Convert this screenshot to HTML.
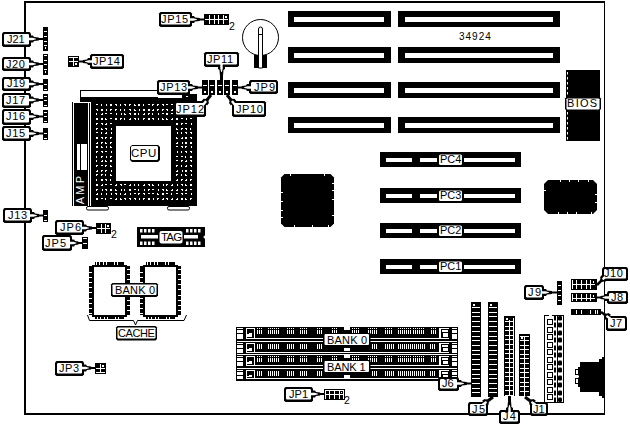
<!DOCTYPE html>
<html><head><meta charset="utf-8"><style>
html,body{margin:0;padding:0;background:#fff;overflow:hidden;}
svg{display:block;font-family:"Liberation Sans",sans-serif;}
</style></head><body>
<svg width="630" height="426" viewBox="0 0 630 426" font-family="Liberation Sans, sans-serif">
<rect width="630" height="426" fill="#fff"/>
<rect x="24" y="1" width="581" height="2" fill="#000"/>
<rect x="24" y="1" width="2" height="414" fill="#000"/>
<rect x="24" y="413" width="581" height="2" fill="#000"/>
<rect x="604" y="1" width="1" height="414" fill="#000"/>
<rect x="288" y="11" width="103" height="16" fill="#000"/>
<rect x="294" y="17" width="90" height="5" fill="#fff"/>
<rect x="398" y="11" width="162" height="16" fill="#000"/>
<rect x="405" y="17" width="148" height="5" fill="#fff"/>
<rect x="288" y="47" width="103" height="16" fill="#000"/>
<rect x="294" y="53" width="90" height="5" fill="#fff"/>
<rect x="398" y="47" width="162" height="16" fill="#000"/>
<rect x="405" y="53" width="148" height="5" fill="#fff"/>
<rect x="288" y="82" width="103" height="16" fill="#000"/>
<rect x="294" y="88" width="90" height="5" fill="#fff"/>
<rect x="398" y="82" width="162" height="16" fill="#000"/>
<rect x="405" y="88" width="148" height="5" fill="#fff"/>
<rect x="288" y="117" width="103" height="16" fill="#000"/>
<rect x="294" y="123" width="90" height="5" fill="#fff"/>
<rect x="398" y="117" width="162" height="16" fill="#000"/>
<rect x="405" y="123" width="148" height="5" fill="#fff"/>
<text x="459" y="40" font-size="10" letter-spacing="1.0" text-anchor="start" fill="#000" >34924</text>
<circle cx="260.5" cy="37.5" r="18" fill="none" stroke="#000" stroke-width="1"/>
<rect x="254" y="55" width="13" height="13" fill="#000"/>
<path d="M258.5,68 V29 A2,2 0 0 1 262.5,29 V68 Z" fill="#fff" stroke="#000" stroke-width="1"/>
<rect x="259" y="34" width="3" height="1" fill="#000"/>
<rect x="566" y="70" width="34" height="71" fill="#000"/>
<rect x="567" y="72" width="1" height="2.5" fill="#fff"/>
<rect x="567" y="77" width="1" height="2.5" fill="#fff"/>
<rect x="567" y="82" width="1" height="2.5" fill="#fff"/>
<rect x="567" y="87" width="1" height="2.5" fill="#fff"/>
<rect x="567" y="92" width="1" height="2.5" fill="#fff"/>
<rect x="567" y="97" width="1" height="2.5" fill="#fff"/>
<rect x="567" y="102" width="1" height="2.5" fill="#fff"/>
<rect x="567" y="107" width="1" height="2.5" fill="#fff"/>
<rect x="567" y="112" width="1" height="2.5" fill="#fff"/>
<rect x="567" y="117" width="1" height="2.5" fill="#fff"/>
<rect x="567" y="122" width="1" height="2.5" fill="#fff"/>
<rect x="567" y="127" width="1" height="2.5" fill="#fff"/>
<rect x="567" y="132" width="1" height="2.5" fill="#fff"/>
<rect x="567" y="137" width="1" height="2.5" fill="#fff"/>
<polygon points="566.5,97 599.5,97 601,98.5 601,109.0 599.5,110.5 566.5,110.5 565,109.0 565,98.5" fill="#000"/>
<polygon points="567.2,98.5 598.8,98.5 599.5,99.2 599.5,108.8 598.8,109.5 567.2,109.5 566.5,108.8 566.5,99.2" fill="#fff"/>
<text x="567" y="107" font-size="11" letter-spacing="1.3" text-anchor="start" fill="#000" >BIOS</text>
<rect x="380" y="152" width="141" height="15" fill="#000"/>
<rect x="386" y="158" width="26" height="4" fill="#fff"/>
<rect x="420" y="158" width="17" height="4" fill="#fff"/>
<rect x="464" y="158" width="51" height="4" fill="#fff"/>
<rect x="439" y="154.5" width="23" height="10.5" rx="1.5" fill="#fff"/>
<text x="440" y="163" font-size="11" letter-spacing="0.0" text-anchor="start" fill="#000" >PC4</text>
<rect x="380" y="188" width="141" height="15" fill="#000"/>
<rect x="386" y="194" width="26" height="4" fill="#fff"/>
<rect x="420" y="194" width="17" height="4" fill="#fff"/>
<rect x="464" y="194" width="51" height="4" fill="#fff"/>
<rect x="439" y="190.5" width="23" height="10.5" rx="1.5" fill="#fff"/>
<text x="440" y="199" font-size="11" letter-spacing="0.0" text-anchor="start" fill="#000" >PC3</text>
<rect x="380" y="223" width="141" height="15" fill="#000"/>
<rect x="386" y="229" width="26" height="4" fill="#fff"/>
<rect x="420" y="229" width="17" height="4" fill="#fff"/>
<rect x="464" y="229" width="51" height="4" fill="#fff"/>
<rect x="439" y="225.5" width="23" height="10.5" rx="1.5" fill="#fff"/>
<text x="440" y="234" font-size="11" letter-spacing="0.0" text-anchor="start" fill="#000" >PC2</text>
<rect x="380" y="259" width="141" height="15" fill="#000"/>
<rect x="386" y="265" width="26" height="4" fill="#fff"/>
<rect x="420" y="265" width="17" height="4" fill="#fff"/>
<rect x="464" y="265" width="51" height="4" fill="#fff"/>
<rect x="439" y="261.5" width="23" height="10.5" rx="1.5" fill="#fff"/>
<text x="440" y="270" font-size="11" letter-spacing="0.0" text-anchor="start" fill="#000" >PC1</text>
<polygon points="284.5,174 330.5,174 334,177.5 334,223.5 330.5,227 284.5,227 281,223.5 281,177.5" fill="#000"/>
<rect x="281" y="192" width="2" height="1" fill="#fff"/>
<rect x="281" y="201" width="2" height="1" fill="#fff"/>
<rect x="281" y="210" width="2" height="1" fill="#fff"/>
<rect x="281" y="217" width="2" height="1" fill="#fff"/>
<rect x="332" y="183" width="2" height="1" fill="#fff"/>
<rect x="332" y="190" width="2" height="1" fill="#fff"/>
<rect x="332" y="199" width="2" height="1" fill="#fff"/>
<rect x="332" y="215" width="2" height="1" fill="#fff"/>
<rect x="290" y="174" width="1" height="2" fill="#fff"/>
<rect x="324" y="174" width="1" height="2" fill="#fff"/>
<rect x="294" y="225" width="1" height="2" fill="#fff"/>
<rect x="312" y="225" width="1" height="2" fill="#fff"/>
<rect x="328" y="225" width="1" height="2" fill="#fff"/>
<polygon points="548,180 593,180 597,184 597,210 593,214 548,214 544,210 544,184" fill="#000"/>
<rect x="560" y="180" width="1" height="2" fill="#fff"/>
<rect x="569" y="180" width="1" height="2" fill="#fff"/>
<rect x="578" y="180" width="1" height="2" fill="#fff"/>
<rect x="588" y="180" width="1" height="2" fill="#fff"/>
<rect x="558" y="212" width="1" height="2" fill="#fff"/>
<rect x="567" y="212" width="1" height="2" fill="#fff"/>
<rect x="576" y="212" width="1" height="2" fill="#fff"/>
<rect x="591" y="212" width="1" height="2" fill="#fff"/>
<rect x="544" y="190" width="2" height="1" fill="#fff"/>
<rect x="595" y="194" width="2" height="1" fill="#fff"/>
<rect x="595" y="202" width="2" height="1" fill="#fff"/>
<rect x="80" y="90" width="78" height="8" fill="#000"/>
<rect x="81" y="91" width="77" height="6" fill="#fff"/>
<rect x="80" y="98" width="117" height="108" fill="#000"/>
<rect x="182" y="94" width="15" height="4" fill="#000"/>
<rect x="186" y="96" width="2" height="1" fill="#fff"/>
<rect x="71" y="102" width="20" height="104" fill="#fff"/>
<rect x="72" y="102" width="1" height="104" fill="#000"/>
<rect x="74" y="103" width="14" height="103" fill="#000"/>
<rect x="89" y="103" width="1" height="103" fill="#000"/>
<path fill="#fff" d="M96,104h1v1h-1zM97,104h1v1h-1zM96,109h1v1h-1zM97,109h1v1h-1zM97,110h1v1h-1zM96,113h1v1h-1zM96,114h1v1h-1zM96,118h1v1h-1zM97,118h1v1h-1zM96,119h1v1h-1zM97,119h1v1h-1zM96,123h1v1h-1zM97,123h1v1h-1zM96,124h1v1h-1zM96,128h1v1h-1zM97,128h1v1h-1zM96,129h1v1h-1zM96,132h1v1h-1zM97,132h1v1h-1zM96,137h1v1h-1zM97,137h1v1h-1zM96,138h1v1h-1zM97,138h1v1h-1zM96,143h1v1h-1zM97,143h1v1h-1zM97,142h1v1h-1zM96,146h1v1h-1zM97,146h1v1h-1zM96,147h1v1h-1zM97,147h1v1h-1zM96,151h1v1h-1zM97,151h1v1h-1zM96,152h1v1h-1zM96,156h1v1h-1zM96,157h1v1h-1zM96,160h1v1h-1zM96,161h1v1h-1zM96,165h1v1h-1zM97,165h1v1h-1zM96,166h1v1h-1zM96,171h1v1h-1zM97,171h1v1h-1zM97,170h1v1h-1zM96,174h1v1h-1zM97,174h1v1h-1zM96,175h1v1h-1zM96,179h1v1h-1zM96,180h1v1h-1zM96,184h1v1h-1zM97,184h1v1h-1zM96,185h1v1h-1zM97,185h1v1h-1zM96,189h1v1h-1zM97,189h1v1h-1zM96,190h1v1h-1zM96,194h1v1h-1zM97,194h1v1h-1zM97,193h1v1h-1zM96,198h1v1h-1zM97,198h1v1h-1zM96,199h1v1h-1zM97,199h1v1h-1zM101,104h1v1h-1zM101,105h1v1h-1zM101,109h1v1h-1zM102,109h1v1h-1zM101,110h1v1h-1zM102,110h1v1h-1zM101,114h1v1h-1zM102,114h1v1h-1zM102,113h1v1h-1zM101,118h1v1h-1zM102,118h1v1h-1zM101,119h1v1h-1zM102,119h1v1h-1zM101,123h1v1h-1zM102,123h1v1h-1zM102,124h1v1h-1zM101,128h1v1h-1zM101,129h1v1h-1zM102,129h1v1h-1zM101,132h1v1h-1zM101,133h1v1h-1zM101,137h1v1h-1zM102,137h1v1h-1zM102,138h1v1h-1zM101,142h1v1h-1zM102,142h1v1h-1zM101,143h1v1h-1zM101,146h1v1h-1zM101,147h1v1h-1zM102,147h1v1h-1zM101,151h1v1h-1zM102,151h1v1h-1zM102,152h1v1h-1zM101,156h1v1h-1zM102,156h1v1h-1zM101,157h1v1h-1zM101,161h1v1h-1zM102,161h1v1h-1zM102,160h1v1h-1zM101,165h1v1h-1zM102,165h1v1h-1zM101,170h1v1h-1zM102,170h1v1h-1zM101,171h1v1h-1zM101,174h1v1h-1zM102,174h1v1h-1zM101,175h1v1h-1zM101,179h1v1h-1zM102,179h1v1h-1zM101,180h1v1h-1zM102,180h1v1h-1zM101,185h1v1h-1zM102,185h1v1h-1zM102,184h1v1h-1zM102,189h1v1h-1zM102,190h1v1h-1zM101,193h1v1h-1zM101,194h1v1h-1zM101,198h1v1h-1zM102,198h1v1h-1zM106,104h1v1h-1zM106,105h1v1h-1zM106,109h1v1h-1zM106,110h1v1h-1zM105,113h1v1h-1zM106,113h1v1h-1zM105,118h1v1h-1zM105,119h1v1h-1zM106,119h1v1h-1zM105,124h1v1h-1zM106,124h1v1h-1zM106,123h1v1h-1zM105,128h1v1h-1zM106,128h1v1h-1zM106,129h1v1h-1zM105,133h1v1h-1zM106,133h1v1h-1zM106,132h1v1h-1zM105,137h1v1h-1zM106,137h1v1h-1zM105,138h1v1h-1zM105,142h1v1h-1zM105,143h1v1h-1zM106,143h1v1h-1zM106,146h1v1h-1zM106,147h1v1h-1zM105,151h1v1h-1zM106,151h1v1h-1zM106,156h1v1h-1zM106,157h1v1h-1zM105,160h1v1h-1zM105,161h1v1h-1zM106,161h1v1h-1zM105,165h1v1h-1zM106,165h1v1h-1zM105,166h1v1h-1zM105,170h1v1h-1zM106,170h1v1h-1zM105,171h1v1h-1zM105,174h1v1h-1zM105,175h1v1h-1zM105,179h1v1h-1zM106,179h1v1h-1zM106,180h1v1h-1zM105,184h1v1h-1zM106,184h1v1h-1zM105,189h1v1h-1zM106,189h1v1h-1zM106,190h1v1h-1zM106,193h1v1h-1zM106,194h1v1h-1zM105,198h1v1h-1zM105,199h1v1h-1zM110,104h1v1h-1zM111,104h1v1h-1zM110,105h1v1h-1zM111,105h1v1h-1zM110,109h1v1h-1zM111,109h1v1h-1zM110,110h1v1h-1zM110,113h1v1h-1zM111,113h1v1h-1zM110,118h1v1h-1zM111,118h1v1h-1zM110,123h1v1h-1zM111,123h1v1h-1zM111,128h1v1h-1zM111,129h1v1h-1zM111,132h1v1h-1zM111,133h1v1h-1zM110,137h1v1h-1zM111,137h1v1h-1zM110,138h1v1h-1zM110,142h1v1h-1zM111,142h1v1h-1zM110,143h1v1h-1zM110,146h1v1h-1zM110,147h1v1h-1zM111,147h1v1h-1zM111,151h1v1h-1zM111,152h1v1h-1zM110,156h1v1h-1zM111,156h1v1h-1zM110,157h1v1h-1zM110,160h1v1h-1zM111,160h1v1h-1zM110,161h1v1h-1zM111,161h1v1h-1zM110,165h1v1h-1zM110,166h1v1h-1zM111,166h1v1h-1zM111,170h1v1h-1zM111,171h1v1h-1zM110,174h1v1h-1zM110,175h1v1h-1zM111,175h1v1h-1zM110,179h1v1h-1zM110,180h1v1h-1zM110,184h1v1h-1zM111,184h1v1h-1zM110,189h1v1h-1zM111,189h1v1h-1zM110,190h1v1h-1zM111,190h1v1h-1zM111,193h1v1h-1zM111,194h1v1h-1zM110,198h1v1h-1zM111,198h1v1h-1zM115,104h1v1h-1zM116,104h1v1h-1zM116,105h1v1h-1zM115,109h1v1h-1zM116,109h1v1h-1zM115,110h1v1h-1zM116,113h1v1h-1zM116,114h1v1h-1zM115,118h1v1h-1zM116,118h1v1h-1zM115,119h1v1h-1zM116,119h1v1h-1zM115,185h1v1h-1zM116,185h1v1h-1zM116,184h1v1h-1zM115,189h1v1h-1zM115,190h1v1h-1zM116,190h1v1h-1zM115,193h1v1h-1zM116,193h1v1h-1zM116,194h1v1h-1zM115,199h1v1h-1zM116,199h1v1h-1zM116,198h1v1h-1zM120,104h1v1h-1zM120,105h1v1h-1zM120,109h1v1h-1zM120,110h1v1h-1zM121,113h1v1h-1zM121,114h1v1h-1zM120,118h1v1h-1zM121,118h1v1h-1zM120,119h1v1h-1zM120,184h1v1h-1zM121,184h1v1h-1zM121,185h1v1h-1zM121,189h1v1h-1zM121,190h1v1h-1zM120,193h1v1h-1zM120,194h1v1h-1zM120,198h1v1h-1zM120,199h1v1h-1zM121,199h1v1h-1zM124,104h1v1h-1zM125,104h1v1h-1zM125,105h1v1h-1zM124,109h1v1h-1zM124,110h1v1h-1zM124,113h1v1h-1zM124,114h1v1h-1zM125,114h1v1h-1zM124,118h1v1h-1zM124,119h1v1h-1zM124,184h1v1h-1zM125,184h1v1h-1zM124,189h1v1h-1zM124,190h1v1h-1zM124,194h1v1h-1zM125,194h1v1h-1zM125,193h1v1h-1zM124,198h1v1h-1zM125,198h1v1h-1zM125,199h1v1h-1zM129,104h1v1h-1zM130,104h1v1h-1zM129,105h1v1h-1zM129,109h1v1h-1zM130,109h1v1h-1zM130,110h1v1h-1zM129,113h1v1h-1zM130,113h1v1h-1zM130,114h1v1h-1zM129,119h1v1h-1zM130,119h1v1h-1zM130,118h1v1h-1zM129,185h1v1h-1zM130,185h1v1h-1zM130,184h1v1h-1zM129,189h1v1h-1zM130,189h1v1h-1zM129,190h1v1h-1zM130,190h1v1h-1zM130,193h1v1h-1zM130,194h1v1h-1zM129,198h1v1h-1zM130,198h1v1h-1zM130,199h1v1h-1zM134,104h1v1h-1zM134,105h1v1h-1zM135,105h1v1h-1zM134,109h1v1h-1zM134,110h1v1h-1zM135,110h1v1h-1zM134,113h1v1h-1zM135,113h1v1h-1zM134,114h1v1h-1zM135,114h1v1h-1zM134,118h1v1h-1zM135,118h1v1h-1zM135,119h1v1h-1zM134,184h1v1h-1zM134,185h1v1h-1zM134,189h1v1h-1zM135,189h1v1h-1zM134,193h1v1h-1zM135,193h1v1h-1zM134,198h1v1h-1zM135,198h1v1h-1zM135,199h1v1h-1zM138,104h1v1h-1zM139,104h1v1h-1zM138,105h1v1h-1zM139,105h1v1h-1zM139,109h1v1h-1zM139,110h1v1h-1zM138,113h1v1h-1zM138,114h1v1h-1zM138,118h1v1h-1zM138,119h1v1h-1zM138,184h1v1h-1zM138,185h1v1h-1zM138,189h1v1h-1zM138,190h1v1h-1zM138,193h1v1h-1zM139,193h1v1h-1zM138,194h1v1h-1zM139,198h1v1h-1zM139,199h1v1h-1zM143,104h1v1h-1zM143,105h1v1h-1zM143,109h1v1h-1zM144,109h1v1h-1zM143,110h1v1h-1zM144,110h1v1h-1zM143,114h1v1h-1zM144,114h1v1h-1zM144,113h1v1h-1zM143,118h1v1h-1zM144,118h1v1h-1zM143,119h1v1h-1zM143,185h1v1h-1zM144,185h1v1h-1zM144,184h1v1h-1zM144,189h1v1h-1zM144,190h1v1h-1zM143,193h1v1h-1zM144,193h1v1h-1zM144,194h1v1h-1zM143,198h1v1h-1zM144,198h1v1h-1zM143,199h1v1h-1zM148,104h1v1h-1zM149,104h1v1h-1zM148,109h1v1h-1zM149,109h1v1h-1zM148,110h1v1h-1zM149,110h1v1h-1zM148,113h1v1h-1zM149,113h1v1h-1zM148,114h1v1h-1zM148,118h1v1h-1zM149,118h1v1h-1zM148,119h1v1h-1zM149,119h1v1h-1zM148,184h1v1h-1zM149,184h1v1h-1zM149,185h1v1h-1zM148,189h1v1h-1zM149,189h1v1h-1zM148,190h1v1h-1zM148,193h1v1h-1zM149,193h1v1h-1zM148,198h1v1h-1zM149,198h1v1h-1zM148,199h1v1h-1zM149,199h1v1h-1zM152,104h1v1h-1zM153,104h1v1h-1zM152,105h1v1h-1zM152,110h1v1h-1zM153,110h1v1h-1zM153,109h1v1h-1zM152,113h1v1h-1zM152,114h1v1h-1zM152,118h1v1h-1zM153,118h1v1h-1zM153,119h1v1h-1zM152,184h1v1h-1zM152,185h1v1h-1zM153,185h1v1h-1zM152,189h1v1h-1zM153,189h1v1h-1zM152,193h1v1h-1zM153,193h1v1h-1zM153,198h1v1h-1zM153,199h1v1h-1zM157,104h1v1h-1zM158,104h1v1h-1zM157,105h1v1h-1zM157,109h1v1h-1zM158,109h1v1h-1zM157,110h1v1h-1zM158,113h1v1h-1zM158,114h1v1h-1zM158,118h1v1h-1zM158,119h1v1h-1zM158,184h1v1h-1zM158,185h1v1h-1zM158,189h1v1h-1zM158,190h1v1h-1zM157,193h1v1h-1zM157,194h1v1h-1zM158,194h1v1h-1zM157,198h1v1h-1zM158,198h1v1h-1zM157,199h1v1h-1zM162,104h1v1h-1zM163,104h1v1h-1zM163,105h1v1h-1zM162,109h1v1h-1zM163,109h1v1h-1zM162,110h1v1h-1zM162,113h1v1h-1zM163,113h1v1h-1zM162,118h1v1h-1zM162,119h1v1h-1zM163,119h1v1h-1zM163,184h1v1h-1zM163,185h1v1h-1zM162,189h1v1h-1zM163,189h1v1h-1zM163,190h1v1h-1zM162,193h1v1h-1zM163,193h1v1h-1zM162,194h1v1h-1zM163,194h1v1h-1zM162,199h1v1h-1zM163,199h1v1h-1zM163,198h1v1h-1zM166,104h1v1h-1zM167,104h1v1h-1zM166,109h1v1h-1zM167,109h1v1h-1zM167,110h1v1h-1zM166,113h1v1h-1zM167,113h1v1h-1zM166,114h1v1h-1zM167,114h1v1h-1zM166,118h1v1h-1zM166,119h1v1h-1zM167,119h1v1h-1zM166,184h1v1h-1zM167,184h1v1h-1zM166,185h1v1h-1zM166,189h1v1h-1zM166,190h1v1h-1zM167,190h1v1h-1zM166,193h1v1h-1zM167,193h1v1h-1zM166,198h1v1h-1zM167,198h1v1h-1zM167,199h1v1h-1zM171,104h1v1h-1zM172,104h1v1h-1zM171,110h1v1h-1zM172,110h1v1h-1zM172,109h1v1h-1zM171,113h1v1h-1zM172,113h1v1h-1zM171,119h1v1h-1zM172,119h1v1h-1zM172,118h1v1h-1zM171,185h1v1h-1zM172,185h1v1h-1zM172,184h1v1h-1zM171,190h1v1h-1zM172,190h1v1h-1zM172,189h1v1h-1zM171,193h1v1h-1zM171,194h1v1h-1zM171,199h1v1h-1zM172,199h1v1h-1zM172,198h1v1h-1zM176,105h1v1h-1zM177,105h1v1h-1zM177,104h1v1h-1zM177,109h1v1h-1zM177,110h1v1h-1zM176,113h1v1h-1zM177,113h1v1h-1zM176,118h1v1h-1zM177,118h1v1h-1zM176,119h1v1h-1zM177,119h1v1h-1zM176,123h1v1h-1zM177,123h1v1h-1zM176,124h1v1h-1zM177,124h1v1h-1zM176,128h1v1h-1zM176,129h1v1h-1zM177,129h1v1h-1zM177,132h1v1h-1zM177,133h1v1h-1zM176,137h1v1h-1zM176,138h1v1h-1zM177,138h1v1h-1zM176,143h1v1h-1zM177,143h1v1h-1zM177,142h1v1h-1zM176,146h1v1h-1zM177,146h1v1h-1zM177,151h1v1h-1zM177,152h1v1h-1zM176,156h1v1h-1zM177,156h1v1h-1zM176,160h1v1h-1zM177,160h1v1h-1zM176,165h1v1h-1zM177,165h1v1h-1zM176,166h1v1h-1zM176,171h1v1h-1zM177,171h1v1h-1zM177,170h1v1h-1zM176,174h1v1h-1zM177,174h1v1h-1zM176,175h1v1h-1zM176,180h1v1h-1zM177,180h1v1h-1zM177,179h1v1h-1zM177,184h1v1h-1zM177,185h1v1h-1zM176,190h1v1h-1zM177,190h1v1h-1zM177,189h1v1h-1zM176,193h1v1h-1zM177,193h1v1h-1zM176,199h1v1h-1zM177,199h1v1h-1zM177,198h1v1h-1zM182,104h1v1h-1zM182,105h1v1h-1zM181,109h1v1h-1zM182,109h1v1h-1zM181,110h1v1h-1zM182,110h1v1h-1zM182,113h1v1h-1zM182,114h1v1h-1zM181,118h1v1h-1zM182,118h1v1h-1zM181,123h1v1h-1zM182,123h1v1h-1zM181,124h1v1h-1zM181,128h1v1h-1zM182,128h1v1h-1zM181,129h1v1h-1zM181,132h1v1h-1zM181,133h1v1h-1zM181,138h1v1h-1zM182,138h1v1h-1zM182,137h1v1h-1zM182,142h1v1h-1zM182,143h1v1h-1zM181,146h1v1h-1zM182,146h1v1h-1zM182,147h1v1h-1zM181,151h1v1h-1zM181,152h1v1h-1zM181,156h1v1h-1zM182,156h1v1h-1zM181,160h1v1h-1zM182,160h1v1h-1zM181,161h1v1h-1zM181,165h1v1h-1zM181,166h1v1h-1zM182,170h1v1h-1zM182,171h1v1h-1zM181,174h1v1h-1zM181,175h1v1h-1zM181,179h1v1h-1zM182,179h1v1h-1zM181,180h1v1h-1zM181,184h1v1h-1zM182,184h1v1h-1zM182,185h1v1h-1zM181,189h1v1h-1zM182,189h1v1h-1zM182,190h1v1h-1zM181,193h1v1h-1zM182,193h1v1h-1zM182,194h1v1h-1zM181,198h1v1h-1zM182,198h1v1h-1zM181,199h1v1h-1zM182,199h1v1h-1zM185,104h1v1h-1zM186,104h1v1h-1zM186,105h1v1h-1zM186,109h1v1h-1zM186,110h1v1h-1zM185,113h1v1h-1zM186,113h1v1h-1zM186,114h1v1h-1zM186,118h1v1h-1zM186,119h1v1h-1zM185,123h1v1h-1zM186,123h1v1h-1zM185,128h1v1h-1zM186,128h1v1h-1zM186,129h1v1h-1zM185,132h1v1h-1zM186,132h1v1h-1zM186,133h1v1h-1zM185,137h1v1h-1zM186,137h1v1h-1zM185,138h1v1h-1zM186,138h1v1h-1zM185,142h1v1h-1zM186,142h1v1h-1zM185,143h1v1h-1zM186,143h1v1h-1zM185,146h1v1h-1zM186,146h1v1h-1zM185,147h1v1h-1zM185,151h1v1h-1zM186,151h1v1h-1zM186,152h1v1h-1zM185,156h1v1h-1zM185,157h1v1h-1zM185,161h1v1h-1zM186,161h1v1h-1zM186,160h1v1h-1zM185,166h1v1h-1zM186,166h1v1h-1zM186,165h1v1h-1zM185,170h1v1h-1zM186,170h1v1h-1zM185,171h1v1h-1zM186,171h1v1h-1zM185,174h1v1h-1zM185,175h1v1h-1zM186,175h1v1h-1zM185,180h1v1h-1zM186,180h1v1h-1zM186,179h1v1h-1zM185,184h1v1h-1zM185,185h1v1h-1zM186,185h1v1h-1zM185,190h1v1h-1zM186,190h1v1h-1zM186,189h1v1h-1zM185,193h1v1h-1zM186,193h1v1h-1zM185,198h1v1h-1zM185,199h1v1h-1zM186,199h1v1h-1zM190,104h1v1h-1zM190,105h1v1h-1zM190,109h1v1h-1zM191,109h1v1h-1zM191,110h1v1h-1zM190,113h1v1h-1zM191,113h1v1h-1zM190,114h1v1h-1zM191,114h1v1h-1zM190,118h1v1h-1zM191,118h1v1h-1zM191,123h1v1h-1zM191,124h1v1h-1zM190,128h1v1h-1zM190,129h1v1h-1zM190,132h1v1h-1zM191,132h1v1h-1zM191,133h1v1h-1zM190,137h1v1h-1zM191,137h1v1h-1zM191,138h1v1h-1zM190,142h1v1h-1zM191,142h1v1h-1zM190,143h1v1h-1zM191,143h1v1h-1zM191,146h1v1h-1zM191,147h1v1h-1zM190,151h1v1h-1zM191,151h1v1h-1zM191,152h1v1h-1zM190,156h1v1h-1zM191,156h1v1h-1zM190,157h1v1h-1zM191,157h1v1h-1zM190,160h1v1h-1zM191,160h1v1h-1zM191,161h1v1h-1zM190,165h1v1h-1zM191,165h1v1h-1zM191,166h1v1h-1zM190,170h1v1h-1zM191,170h1v1h-1zM191,171h1v1h-1zM191,174h1v1h-1zM191,175h1v1h-1zM190,179h1v1h-1zM191,179h1v1h-1zM190,180h1v1h-1zM190,184h1v1h-1zM191,184h1v1h-1zM190,185h1v1h-1zM191,185h1v1h-1zM190,189h1v1h-1zM191,189h1v1h-1zM191,193h1v1h-1zM191,194h1v1h-1zM190,198h1v1h-1zM191,198h1v1h-1zM190,199h1v1h-1z"/>
<rect x="116" y="126" width="55" height="55" fill="#fff"/>
<polygon points="132,145 158,145 160,147 160,160 158,162 132,162 130,160 130,147" fill="#000"/>
<polygon points="132,146 157,146 158,147 158,159 157,160 132,160 131,159 131,147" fill="#fff"/>
<text x="131" y="157" font-size="11.5" letter-spacing="0.5" text-anchor="start" fill="#000" >CPU</text>
<rect x="77" y="144" width="3" height="26" fill="#fff"/>
<rect x="81" y="144" width="6" height="26" fill="#fff"/>
<text x="0" y="0" font-size="11" letter-spacing="2.2" text-anchor="middle" fill="#fff" transform="translate(83.5,189) rotate(-90)">AMP</text>
<rect x="86.5" y="206.5" width="22" height="3.5" rx="1.5" fill="#fff" stroke="#000" stroke-width="1"/>
<rect x="167.5" y="206.5" width="22" height="3.5" rx="1.5" fill="#fff" stroke="#000" stroke-width="1"/>
<rect x="202" y="80" width="6" height="15" fill="#000"/>
<rect x="203" y="85" width="4" height="1" fill="#fff"/>
<rect x="204" y="91" width="2" height="2" fill="#fff"/>
<rect x="209" y="80" width="6" height="15" fill="#000"/>
<rect x="210" y="85" width="4" height="1" fill="#fff"/>
<rect x="211" y="91" width="2" height="2" fill="#fff"/>
<rect x="217" y="80" width="6" height="15" fill="#000"/>
<rect x="218" y="85" width="4" height="1" fill="#fff"/>
<rect x="219" y="91" width="2" height="2" fill="#fff"/>
<rect x="224" y="80" width="6" height="15" fill="#000"/>
<rect x="225" y="85" width="4" height="1" fill="#fff"/>
<rect x="226" y="91" width="2" height="2" fill="#fff"/>
<rect x="232" y="80" width="6" height="15" fill="#000"/>
<rect x="233" y="85" width="4" height="1" fill="#fff"/>
<rect x="234" y="91" width="2" height="2" fill="#fff"/>
<rect x="43" y="27" width="5" height="24" fill="#000"/>
<rect x="44" y="31" width="3" height="1" fill="#fff"/>
<rect x="44" y="36" width="3" height="1" fill="#fff"/>
<rect x="44" y="41" width="3" height="1" fill="#fff"/>
<rect x="44" y="45" width="3" height="1" fill="#fff"/>
<rect x="45" y="47" width="1" height="2" fill="#fff"/>
<rect x="43" y="54" width="5" height="21" fill="#000"/>
<rect x="44" y="55" width="3" height="1" fill="#fff"/>
<rect x="44" y="60" width="3" height="1" fill="#fff"/>
<rect x="44" y="64" width="3" height="1" fill="#fff"/>
<rect x="44" y="69" width="3" height="1" fill="#fff"/>
<rect x="45" y="71" width="1" height="2" fill="#fff"/>
<rect x="43" y="79" width="5" height="12" fill="#000"/>
<rect x="44" y="84" width="3" height="1" fill="#fff"/>
<rect x="44" y="89" width="3" height="1" fill="#fff"/>
<rect x="43" y="94" width="5" height="13" fill="#000"/>
<rect x="44" y="96" width="3" height="1" fill="#fff"/>
<rect x="44" y="100" width="3" height="1" fill="#fff"/>
<rect x="44" y="105" width="3" height="1" fill="#fff"/>
<rect x="43" y="110" width="5" height="13" fill="#000"/>
<rect x="44" y="112" width="3" height="1" fill="#fff"/>
<rect x="44" y="116" width="3" height="1" fill="#fff"/>
<rect x="44" y="121" width="3" height="1" fill="#fff"/>
<rect x="43" y="128" width="5" height="12" fill="#000"/>
<rect x="44" y="133" width="3" height="1" fill="#fff"/>
<rect x="44" y="138" width="3" height="1" fill="#fff"/>
<rect x="43" y="210" width="5" height="12" fill="#000"/>
<rect x="44" y="215" width="3" height="1" fill="#fff"/>
<rect x="44" y="220" width="3" height="1" fill="#fff"/>
<polygon points="30.0,42.5 33.0,42.5 34.0,41.0 38.8,40.6 38.8,37.4 34.0,37.0 33.0,35.5 30.0,35.5" fill="#000"/>
<line x1="37.8" y1="39.0" x2="43" y2="39" stroke="#000" stroke-width="2"/>
<polygon points="3.5,32 29.5,32 31,33.5 31,45.5 29.5,47 3.5,47 2,45.5 2,33.5" fill="#000"/>
<polygon points="4.7,34 28.3,34 29,34.7 29,43.8 28.3,44.5 4.7,44.5 4,43.8 4,34.7" fill="#fff"/>
<polygon points="28.0,40.2 32.5,40.2 36.0,39.3 36.0,38.7 32.5,37.8 28.0,37.8" fill="#fff"/>
<text x="7" y="43" font-size="11" letter-spacing="0.0" text-anchor="start" fill="#000" >J21</text>
<polygon points="30.0,67.5 33.0,67.5 34.0,66.0 38.8,65.6 38.8,62.4 34.0,62.0 33.0,60.5 30.0,60.5" fill="#000"/>
<line x1="37.8" y1="64.0" x2="43" y2="64" stroke="#000" stroke-width="2"/>
<polygon points="3.5,57 29.5,57 31,58.5 31,69.5 29.5,71 3.5,71 2,69.5 2,58.5" fill="#000"/>
<polygon points="4.7,59 28.3,59 29,59.7 29,67.8 28.3,68.5 4.7,68.5 4,67.8 4,59.7" fill="#fff"/>
<polygon points="28.0,65.2 32.5,65.2 36.0,64.3 36.0,63.7 32.5,62.8 28.0,62.8" fill="#fff"/>
<text x="6" y="68" font-size="11" letter-spacing="0.6" text-anchor="start" fill="#000" >J20</text>
<polygon points="30.0,87.5 33.0,87.5 34.0,86.0 38.8,85.6 38.8,82.4 34.0,82.0 33.0,80.5 30.0,80.5" fill="#000"/>
<line x1="37.8" y1="84.0" x2="43" y2="84" stroke="#000" stroke-width="2"/>
<polygon points="3.5,77 29.5,77 31,78.5 31,89.5 29.5,91 3.5,91 2,89.5 2,78.5" fill="#000"/>
<polygon points="4.7,79 28.3,79 29,79.7 29,87.8 28.3,88.5 4.7,88.5 4,87.8 4,79.7" fill="#fff"/>
<polygon points="28.0,85.2 32.5,85.2 36.0,84.3 36.0,83.7 32.5,82.8 28.0,82.8" fill="#fff"/>
<text x="7" y="87" font-size="11" letter-spacing="0.2" text-anchor="start" fill="#000" >J19</text>
<polygon points="30.0,103.5 33.0,103.5 34.0,102.0 38.8,101.6 38.8,98.4 34.0,98.0 33.0,96.5 30.0,96.5" fill="#000"/>
<line x1="37.8" y1="100.0" x2="43" y2="100" stroke="#000" stroke-width="2"/>
<polygon points="3.5,93 29.5,93 31,94.5 31,106.5 29.5,108 3.5,108 2,106.5 2,94.5" fill="#000"/>
<polygon points="4.7,95 28.3,95 29,95.7 29,104.8 28.3,105.5 4.7,105.5 4,104.8 4,95.7" fill="#fff"/>
<polygon points="28.0,101.2 32.5,101.2 36.0,100.3 36.0,99.7 32.5,98.8 28.0,98.8" fill="#fff"/>
<text x="6" y="104" font-size="11" letter-spacing="0.7" text-anchor="start" fill="#000" >J17</text>
<polygon points="30.0,120.0 33.0,120.0 34.0,118.5 38.8,118.1 38.8,114.9 34.0,114.5 33.0,113.0 30.0,113.0" fill="#000"/>
<line x1="37.8" y1="116.5" x2="43" y2="116.5" stroke="#000" stroke-width="2"/>
<polygon points="3.5,109 29.5,109 31,110.5 31,123.5 29.5,125 3.5,125 2,123.5 2,110.5" fill="#000"/>
<polygon points="4.7,111 28.3,111 29,111.7 29,121.8 28.3,122.5 4.7,122.5 4,121.8 4,111.7" fill="#fff"/>
<polygon points="28.0,117.7 32.5,117.7 36.0,116.8 36.0,116.2 32.5,115.3 28.0,115.3" fill="#fff"/>
<text x="6" y="120" font-size="11" letter-spacing="0.7" text-anchor="start" fill="#000" >J16</text>
<polygon points="30.0,137.0 33.0,137.0 34.0,135.5 38.8,135.1 38.8,131.9 34.0,131.5 33.0,130.0 30.0,130.0" fill="#000"/>
<line x1="37.8" y1="133.5" x2="43" y2="133.5" stroke="#000" stroke-width="2"/>
<polygon points="3.5,126 29.5,126 31,127.5 31,139.5 29.5,141 3.5,141 2,139.5 2,127.5" fill="#000"/>
<polygon points="4.7,128 28.3,128 29,128.7 29,137.8 28.3,138.5 4.7,138.5 4,137.8 4,128.7" fill="#fff"/>
<polygon points="28.0,134.7 32.5,134.7 36.0,133.8 36.0,133.2 32.5,132.3 28.0,132.3" fill="#fff"/>
<text x="6" y="137" font-size="11" letter-spacing="0.7" text-anchor="start" fill="#000" >J15</text>
<polygon points="31.0,219.0 34.0,219.0 35.0,217.5 39.15,217.1 39.15,213.9 35.0,213.5 34.0,212.0 31.0,212.0" fill="#000"/>
<line x1="38.15" y1="215.5" x2="43" y2="215.5" stroke="#000" stroke-width="2"/>
<polygon points="4.5,208 30.5,208 32,209.5 32,221.5 30.5,223 4.5,223 3,221.5 3,209.5" fill="#000"/>
<polygon points="5.7,210 29.3,210 30,210.7 30,219.8 29.3,220.5 5.7,220.5 5,219.8 5,210.7" fill="#fff"/>
<polygon points="29.0,216.7 33.5,216.7 37.0,215.8 37.0,215.2 33.5,214.3 29.0,214.3" fill="#fff"/>
<text x="8" y="219" font-size="11" letter-spacing="0.7" text-anchor="start" fill="#000" >J13</text>
<rect x="68" y="56" width="11" height="11" fill="#000"/>
<rect x="69" y="57" width="9" height="1" fill="#fff"/>
<rect x="69" y="61" width="9" height="1" fill="#fff"/>
<rect x="73" y="58" width="1" height="8" fill="#fff"/>
<rect x="75" y="63" width="2" height="2" fill="#fff"/>
<polygon points="91.0,58.0 88.0,58.0 87.0,59.5 82.85,59.9 82.85,63.1 87.0,63.5 88.0,65.0 91.0,65.0" fill="#000"/>
<line x1="83.85" y1="61.5" x2="79" y2="61.5" stroke="#000" stroke-width="2"/>
<polygon points="91.5,54 122.5,54 124,55.5 124,67.5 122.5,69 91.5,69 90,67.5 90,55.5" fill="#000"/>
<polygon points="92.7,56 121.3,56 122,56.7 122,65.8 121.3,66.5 92.7,66.5 92,65.8 92,56.7" fill="#fff"/>
<polygon points="93.0,60.3 88.5,60.3 85.0,61.2 85.0,61.8 88.5,62.7 93.0,62.7" fill="#fff"/>
<text x="93" y="65" font-size="11" letter-spacing="0.6" text-anchor="start" fill="#000" >JP14</text>
<rect x="204" y="14" width="25" height="11" fill="#000"/>
<rect x="205" y="19" width="23" height="1" fill="#fff"/>
<rect x="209" y="15" width="1" height="9" fill="#fff"/>
<rect x="214" y="15" width="1" height="9" fill="#fff"/>
<rect x="218" y="15" width="1" height="9" fill="#fff"/>
<rect x="223" y="15" width="1" height="9" fill="#fff"/>
<rect x="225" y="16" width="2" height="2" fill="#fff"/>
<text x="229" y="30" font-size="10.5" letter-spacing="0" text-anchor="start" fill="#000" >2</text>
<polygon points="191.0,23.0 194.0,23.0 195.0,21.5 199.8,21.1 199.8,17.9 195.0,17.5 194.0,16.0 191.0,16.0" fill="#000"/>
<line x1="198.8" y1="19.5" x2="204" y2="19.5" stroke="#000" stroke-width="2"/>
<polygon points="160.5,12 190.5,12 192,13.5 192,25.5 190.5,27 160.5,27 159,25.5 159,13.5" fill="#000"/>
<polygon points="161.7,14 189.3,14 190,14.7 190,23.8 189.3,24.5 161.7,24.5 161,23.8 161,14.7" fill="#fff"/>
<polygon points="189.0,20.7 193.5,20.7 197.0,19.8 197.0,19.2 193.5,18.3 189.0,18.3" fill="#fff"/>
<text x="161" y="23" font-size="11" letter-spacing="0.7" text-anchor="start" fill="#000" >JP15</text>
<polygon points="218.0,66.0 218.0,69.0 219.5,70.0 219.9,75.0 223.1,75.0 223.5,70.0 225.0,69.0 225.0,66.0" fill="#000"/>
<line x1="221.5" y1="74.0" x2="221.5" y2="80" stroke="#000" stroke-width="3"/>
<polygon points="205.5,52 237.5,52 239,53.5 239,65.5 237.5,67 205.5,67 204,65.5 204,53.5" fill="#000"/>
<polygon points="206.7,54 236.3,54 237,54.7 237,63.8 236.3,64.5 206.7,64.5 206,63.8 206,54.7" fill="#fff"/>
<polygon points="220.3,64.0 220.3,68.5 221.2,72.0 221.8,72.0 222.7,68.5 222.7,64.0" fill="#fff"/>
<text x="207" y="63" font-size="11" letter-spacing="0.6" text-anchor="start" fill="#000" >JP11</text>
<polygon points="189.0,91.0 192.0,91.0 193.0,89.5 197.8,89.1 197.8,85.9 193.0,85.5 192.0,84.0 189.0,84.0" fill="#000"/>
<line x1="196.8" y1="87.5" x2="202" y2="87.5" stroke="#000" stroke-width="2"/>
<polygon points="158.5,80 188.5,80 190,81.5 190,93.5 188.5,95 158.5,95 157,93.5 157,81.5" fill="#000"/>
<polygon points="159.7,82 187.3,82 188,82.7 188,91.8 187.3,92.5 159.7,92.5 159,91.8 159,82.7" fill="#fff"/>
<polygon points="187.0,88.7 191.5,88.7 195.0,87.8 195.0,87.2 191.5,86.3 187.0,86.3" fill="#fff"/>
<text x="160" y="91" font-size="11" letter-spacing="0.7" text-anchor="start" fill="#000" >JP13</text>
<polygon points="250.0,84.0 247.0,84.0 246.0,85.5 241.85,85.9 241.85,89.1 246.0,89.5 247.0,91.0 250.0,91.0" fill="#000"/>
<line x1="242.85" y1="87.5" x2="238" y2="87.5" stroke="#000" stroke-width="2"/>
<polygon points="250.5,80 276.5,80 278,81.5 278,92.5 276.5,94 250.5,94 249,92.5 249,81.5" fill="#000"/>
<polygon points="251.7,82 275.3,82 276,82.7 276,90.8 275.3,91.5 251.7,91.5 251,90.8 251,82.7" fill="#fff"/>
<polygon points="252.0,86.3 247.5,86.3 244.0,87.2 244.0,87.8 247.5,88.7 252.0,88.7" fill="#fff"/>
<text x="254" y="91" font-size="11" letter-spacing="1.1" text-anchor="start" fill="#000" >JP9</text>
<polygon points="207.11,105.47 208.98,103.12 208.44,101.41 208.75,100.38 206.25,98.38 205.31,98.91 203.52,98.75 201.64,101.09" fill="#000"/>
<line x1="206.87" y1="100.16" x2="211" y2="95" stroke="#000" stroke-width="3"/>
<polygon points="175.5,101 204.5,101 206,102.5 206,115.5 204.5,117 175.5,117 174,115.5 174,102.5" fill="#000"/>
<polygon points="176.7,103 203.3,103 204,103.7 204,113.8 203.3,114.5 176.7,114.5 176,113.8 176,103.7" fill="#fff"/>
<polygon points="204.06,105.59 206.87,102.08 206.48,101.13 206.02,100.75 205.0,100.58 202.19,104.09" fill="#fff"/>
<text x="176" y="113" font-size="11" letter-spacing="1.0" text-anchor="start" fill="#000" >JP12</text>
<polygon points="236.36,101.09 234.48,98.75 232.69,98.91 231.75,98.38 229.25,100.38 229.56,101.41 229.02,103.12 230.89,105.47" fill="#000"/>
<line x1="231.13" y1="100.16" x2="227" y2="95" stroke="#000" stroke-width="3"/>
<polygon points="233.5,101 264.5,101 266,102.5 266,115.5 264.5,117 233.5,117 232,115.5 232,102.5" fill="#000"/>
<polygon points="234.7,103 263.3,103 264,103.7 264,113.8 263.3,114.5 234.7,114.5 234,113.8 234,103.7" fill="#fff"/>
<polygon points="235.81,104.09 233.0,100.58 231.98,100.75 231.52,101.13 231.13,102.08 233.94,105.59" fill="#fff"/>
<text x="236" y="113" font-size="11" letter-spacing="0.6" text-anchor="start" fill="#000" >JP10</text>
<rect x="96" y="223" width="15" height="11" fill="#000"/>
<rect x="97" y="228" width="13" height="1" fill="#fff"/>
<rect x="101" y="224" width="1" height="9" fill="#fff"/>
<rect x="105" y="224" width="1" height="9" fill="#fff"/>
<rect x="107" y="225" width="2" height="2" fill="#fff"/>
<text x="111" y="238" font-size="10.5" letter-spacing="0" text-anchor="start" fill="#000" >2</text>
<polygon points="83.0,231.5 86.0,231.5 87.0,230.0 92.0,229.6 92.0,226.4 87.0,226.0 86.0,224.5 83.0,224.5" fill="#000"/>
<line x1="91.0" y1="228.0" x2="97" y2="228" stroke="#000" stroke-width="2"/>
<polygon points="56.5,220 82.5,220 84,221.5 84,233.5 82.5,235 56.5,235 55,233.5 55,221.5" fill="#000"/>
<polygon points="57.7,222 81.3,222 82,222.7 82,231.8 81.3,232.5 57.7,232.5 57,231.8 57,222.7" fill="#fff"/>
<polygon points="81.0,229.2 85.5,229.2 89.0,228.3 89.0,227.7 85.5,226.8 81.0,226.8" fill="#fff"/>
<text x="60" y="231" font-size="11" letter-spacing="1.1" text-anchor="start" fill="#000" >JP6</text>
<rect x="82" y="237" width="6" height="12" fill="#000"/>
<rect x="83" y="238" width="4" height="1" fill="#fff"/>
<rect x="83" y="243" width="4" height="1" fill="#fff"/>
<polygon points="71.0,246.5 74.0,246.5 75.0,245.0 78.5,244.6 78.5,241.4 75.0,241.0 74.0,239.5 71.0,239.5" fill="#000"/>
<line x1="77.5" y1="243.0" x2="82" y2="243" stroke="#000" stroke-width="2"/>
<polygon points="43.5,235 70.5,235 72,236.5 72,249.5 70.5,251 43.5,251 42,249.5 42,236.5" fill="#000"/>
<polygon points="44.7,237 69.3,237 70,237.7 70,247.8 69.3,248.5 44.7,248.5 44,247.8 44,237.7" fill="#fff"/>
<polygon points="69.0,244.2 73.5,244.2 76.5,243.3 76.5,242.7 73.5,241.8 69.0,241.8" fill="#fff"/>
<text x="45" y="247" font-size="11" letter-spacing="1.1" text-anchor="start" fill="#000" >JP5</text>
<rect x="137" y="227" width="68" height="20" fill="#000"/>
<rect x="140" y="229" width="2.5" height="3.5" fill="#fff"/>
<rect x="140" y="241.5" width="2.5" height="3.5" fill="#fff"/>
<rect x="144" y="229" width="2.5" height="3.5" fill="#fff"/>
<rect x="144" y="241.5" width="2.5" height="3.5" fill="#fff"/>
<rect x="148" y="229" width="2.5" height="3.5" fill="#fff"/>
<rect x="148" y="241.5" width="2.5" height="3.5" fill="#fff"/>
<rect x="152" y="229" width="2.5" height="3.5" fill="#fff"/>
<rect x="152" y="241.5" width="2.5" height="3.5" fill="#fff"/>
<rect x="186" y="229" width="2.5" height="3.5" fill="#fff"/>
<rect x="186" y="241.5" width="2.5" height="3.5" fill="#fff"/>
<rect x="190" y="229" width="2.5" height="3.5" fill="#fff"/>
<rect x="190" y="241.5" width="2.5" height="3.5" fill="#fff"/>
<rect x="194" y="229" width="2.5" height="3.5" fill="#fff"/>
<rect x="194" y="241.5" width="2.5" height="3.5" fill="#fff"/>
<rect x="198" y="229" width="2.5" height="3.5" fill="#fff"/>
<rect x="198" y="241.5" width="2.5" height="3.5" fill="#fff"/>
<rect x="141" y="235" width="17" height="3.5" fill="#fff"/>
<rect x="184" y="235" width="14" height="3.5" fill="#fff"/>
<circle cx="205" cy="237" r="1.5" fill="#fff"/>
<rect x="159.5" y="231" width="23" height="12.5" rx="2" fill="#fff"/>
<text x="161" y="241" font-size="11.5" letter-spacing="-0.8" text-anchor="start" fill="#000" >TAG</text>
<rect x="95" y="262" width="29" height="3" fill="#000"/>
<rect x="92" y="265" width="35" height="2" fill="#000"/>
<rect x="89" y="266" width="5" height="49" fill="#000"/>
<rect x="125" y="266" width="5" height="49" fill="#000"/>
<rect x="92" y="315" width="35" height="2" fill="#000"/>
<rect x="95" y="317" width="29" height="2" fill="#000"/>
<rect x="94" y="267" width="31" height="48" fill="#fff"/>
<rect x="96" y="262" width="1" height="3" fill="#fff"/>
<rect x="97" y="317" width="1" height="2" fill="#fff"/>
<rect x="99" y="262" width="1" height="3" fill="#fff"/>
<rect x="100" y="317" width="1" height="2" fill="#fff"/>
<rect x="103" y="262" width="1" height="3" fill="#fff"/>
<rect x="104" y="317" width="1" height="2" fill="#fff"/>
<rect x="106" y="262" width="1" height="3" fill="#fff"/>
<rect x="107" y="317" width="1" height="2" fill="#fff"/>
<rect x="114" y="262" width="1" height="3" fill="#fff"/>
<rect x="115" y="317" width="1" height="2" fill="#fff"/>
<rect x="117" y="262" width="1" height="3" fill="#fff"/>
<rect x="118" y="317" width="1" height="2" fill="#fff"/>
<rect x="89" y="272" width="3" height="1" fill="#fff"/>
<rect x="127" y="269" width="3" height="1" fill="#fff"/>
<rect x="89" y="277" width="3" height="1" fill="#fff"/>
<rect x="127" y="274" width="3" height="1" fill="#fff"/>
<rect x="89" y="282" width="3" height="1" fill="#fff"/>
<rect x="127" y="279" width="3" height="1" fill="#fff"/>
<rect x="89" y="287" width="3" height="1" fill="#fff"/>
<rect x="127" y="284" width="3" height="1" fill="#fff"/>
<rect x="89" y="292" width="3" height="1" fill="#fff"/>
<rect x="127" y="289" width="3" height="1" fill="#fff"/>
<rect x="89" y="298" width="3" height="1" fill="#fff"/>
<rect x="127" y="295" width="3" height="1" fill="#fff"/>
<rect x="89" y="303" width="3" height="1" fill="#fff"/>
<rect x="127" y="300" width="3" height="1" fill="#fff"/>
<rect x="89" y="308" width="3" height="1" fill="#fff"/>
<rect x="127" y="305" width="3" height="1" fill="#fff"/>
<rect x="89" y="313" width="3" height="1" fill="#fff"/>
<rect x="127" y="310" width="3" height="1" fill="#fff"/>
<rect x="146" y="262" width="29" height="3" fill="#000"/>
<rect x="143" y="265" width="35" height="2" fill="#000"/>
<rect x="140" y="266" width="5" height="49" fill="#000"/>
<rect x="176" y="266" width="5" height="49" fill="#000"/>
<rect x="143" y="315" width="35" height="2" fill="#000"/>
<rect x="146" y="317" width="29" height="2" fill="#000"/>
<rect x="145" y="267" width="31" height="48" fill="#fff"/>
<rect x="147" y="262" width="1" height="3" fill="#fff"/>
<rect x="148" y="317" width="1" height="2" fill="#fff"/>
<rect x="150" y="262" width="1" height="3" fill="#fff"/>
<rect x="151" y="317" width="1" height="2" fill="#fff"/>
<rect x="154" y="262" width="1" height="3" fill="#fff"/>
<rect x="155" y="317" width="1" height="2" fill="#fff"/>
<rect x="157" y="262" width="1" height="3" fill="#fff"/>
<rect x="158" y="317" width="1" height="2" fill="#fff"/>
<rect x="165" y="262" width="1" height="3" fill="#fff"/>
<rect x="166" y="317" width="1" height="2" fill="#fff"/>
<rect x="168" y="262" width="1" height="3" fill="#fff"/>
<rect x="169" y="317" width="1" height="2" fill="#fff"/>
<rect x="140" y="272" width="3" height="1" fill="#fff"/>
<rect x="178" y="269" width="3" height="1" fill="#fff"/>
<rect x="140" y="277" width="3" height="1" fill="#fff"/>
<rect x="178" y="274" width="3" height="1" fill="#fff"/>
<rect x="140" y="282" width="3" height="1" fill="#fff"/>
<rect x="178" y="279" width="3" height="1" fill="#fff"/>
<rect x="140" y="287" width="3" height="1" fill="#fff"/>
<rect x="178" y="284" width="3" height="1" fill="#fff"/>
<rect x="140" y="292" width="3" height="1" fill="#fff"/>
<rect x="178" y="289" width="3" height="1" fill="#fff"/>
<rect x="140" y="298" width="3" height="1" fill="#fff"/>
<rect x="178" y="295" width="3" height="1" fill="#fff"/>
<rect x="140" y="303" width="3" height="1" fill="#fff"/>
<rect x="178" y="300" width="3" height="1" fill="#fff"/>
<rect x="140" y="308" width="3" height="1" fill="#fff"/>
<rect x="178" y="305" width="3" height="1" fill="#fff"/>
<rect x="140" y="313" width="3" height="1" fill="#fff"/>
<rect x="178" y="310" width="3" height="1" fill="#fff"/>
<polygon points="112.5,283 156.5,283 158,284.5 158,295.5 156.5,297 112.5,297 111,295.5 111,284.5" fill="#000"/>
<polygon points="113.2,284.5 155.8,284.5 156.5,285.2 156.5,294.3 155.8,295 113.2,295 112.5,294.3 112.5,285.2" fill="#fff"/>
<text x="115" y="294" font-size="11" letter-spacing="0.2" text-anchor="start" fill="#000" >BANK 0</text>
<path d="M87.5,315 L89.5,320.5 H133.5 L135.5,325 L137.5,320.5 H184 L186.5,315" fill="none" stroke="#000" stroke-width="1"/>
<polygon points="117.5,326 155.5,326 157,327.5 157,339.0 155.5,340.5 117.5,340.5 116,339.0 116,327.5" fill="#000"/>
<polygon points="118.2,327.5 154.8,327.5 155.5,328.2 155.5,337.8 154.8,338.5 118.2,338.5 117.5,337.8 117.5,328.2" fill="#fff"/>
<text x="118" y="337" font-size="11" letter-spacing="-0.4" text-anchor="start" fill="#000" >CACHE</text>
<rect x="236" y="327" width="222" height="54" fill="#000"/>
<rect x="237" y="338" width="220" height="1" fill="#fff"/>
<rect x="237" y="341" width="220" height="1" fill="#fff"/>
<rect x="237" y="352" width="220" height="1" fill="#fff"/>
<rect x="237" y="354" width="220" height="1" fill="#fff"/>
<rect x="237" y="365" width="220" height="1" fill="#fff"/>
<rect x="237" y="368" width="220" height="1" fill="#fff"/>
<rect x="237" y="378" width="220" height="1" fill="#fff"/>
<rect x="237" y="328" width="6" height="1" fill="#fff"/>
<rect x="237" y="330" width="6" height="3" fill="#fff"/>
<rect x="237" y="334" width="6" height="4" fill="#fff"/>
<rect x="452" y="328" width="5" height="1" fill="#fff"/>
<rect x="452" y="330" width="5" height="3" fill="#fff"/>
<rect x="452" y="334" width="5" height="4" fill="#fff"/>
<rect x="243" y="327" width="3" height="12" fill="#000"/>
<rect x="449" y="327" width="3" height="12" fill="#000"/>
<rect x="246" y="327" width="9" height="11" fill="#000"/>
<rect x="246" y="328" width="9" height="1" fill="#fff"/>
<rect x="246" y="329" width="1" height="9" fill="#fff"/>
<rect x="254" y="328" width="1" height="11" fill="#fff"/>
<rect x="247" y="333" width="5" height="4" fill="#fff"/>
<rect x="247" y="333" width="2" height="1" fill="#000"/>
<rect x="439" y="327" width="10" height="11" fill="#000"/>
<rect x="439" y="328" width="10" height="1" fill="#fff"/>
<rect x="439" y="328" width="1" height="11" fill="#fff"/>
<rect x="440" y="329" width="1" height="9" fill="#fff"/>
<rect x="442" y="330" width="6" height="2" fill="#fff"/>
<rect x="443" y="333" width="5" height="4" fill="#fff"/>
<rect x="257" y="330" width="1" height="4" fill="#fff"/>
<rect x="257" y="328" width="1" height="1" fill="#fff"/>
<rect x="259" y="330" width="1" height="4" fill="#fff"/>
<rect x="259" y="328" width="1" height="1" fill="#fff"/>
<rect x="261" y="330" width="1" height="4" fill="#fff"/>
<rect x="261" y="328" width="1" height="1" fill="#fff"/>
<rect x="268" y="330" width="1" height="4" fill="#fff"/>
<rect x="268" y="328" width="1" height="1" fill="#fff"/>
<rect x="270" y="330" width="1" height="4" fill="#fff"/>
<rect x="270" y="328" width="1" height="1" fill="#fff"/>
<rect x="272" y="330" width="1" height="4" fill="#fff"/>
<rect x="272" y="328" width="1" height="1" fill="#fff"/>
<rect x="274" y="330" width="1" height="4" fill="#fff"/>
<rect x="274" y="328" width="1" height="1" fill="#fff"/>
<rect x="276" y="330" width="1" height="4" fill="#fff"/>
<rect x="276" y="328" width="1" height="1" fill="#fff"/>
<rect x="278" y="330" width="1" height="4" fill="#fff"/>
<rect x="278" y="328" width="1" height="1" fill="#fff"/>
<rect x="287" y="330" width="1" height="4" fill="#fff"/>
<rect x="287" y="328" width="1" height="1" fill="#fff"/>
<rect x="289" y="330" width="1" height="4" fill="#fff"/>
<rect x="289" y="328" width="1" height="1" fill="#fff"/>
<rect x="291" y="330" width="1" height="4" fill="#fff"/>
<rect x="291" y="328" width="1" height="1" fill="#fff"/>
<rect x="293" y="330" width="1" height="4" fill="#fff"/>
<rect x="293" y="328" width="1" height="1" fill="#fff"/>
<rect x="300" y="330" width="1" height="4" fill="#fff"/>
<rect x="300" y="328" width="1" height="1" fill="#fff"/>
<rect x="302" y="330" width="1" height="4" fill="#fff"/>
<rect x="302" y="328" width="1" height="1" fill="#fff"/>
<rect x="304" y="330" width="1" height="4" fill="#fff"/>
<rect x="304" y="328" width="1" height="1" fill="#fff"/>
<rect x="306" y="330" width="1" height="4" fill="#fff"/>
<rect x="306" y="328" width="1" height="1" fill="#fff"/>
<rect x="317" y="330" width="1" height="4" fill="#fff"/>
<rect x="317" y="328" width="1" height="1" fill="#fff"/>
<rect x="319" y="330" width="1" height="4" fill="#fff"/>
<rect x="319" y="328" width="1" height="1" fill="#fff"/>
<rect x="321" y="330" width="1" height="4" fill="#fff"/>
<rect x="321" y="328" width="1" height="1" fill="#fff"/>
<rect x="332" y="330" width="1" height="4" fill="#fff"/>
<rect x="332" y="328" width="1" height="1" fill="#fff"/>
<rect x="334" y="330" width="1" height="4" fill="#fff"/>
<rect x="334" y="328" width="1" height="1" fill="#fff"/>
<rect x="336" y="330" width="1" height="4" fill="#fff"/>
<rect x="336" y="328" width="1" height="1" fill="#fff"/>
<rect x="352" y="330" width="1" height="4" fill="#fff"/>
<rect x="352" y="328" width="1" height="1" fill="#fff"/>
<rect x="354" y="330" width="1" height="4" fill="#fff"/>
<rect x="354" y="328" width="1" height="1" fill="#fff"/>
<rect x="356" y="330" width="1" height="4" fill="#fff"/>
<rect x="356" y="328" width="1" height="1" fill="#fff"/>
<rect x="358" y="330" width="1" height="4" fill="#fff"/>
<rect x="358" y="328" width="1" height="1" fill="#fff"/>
<rect x="368" y="330" width="1" height="4" fill="#fff"/>
<rect x="368" y="328" width="1" height="1" fill="#fff"/>
<rect x="370" y="330" width="1" height="4" fill="#fff"/>
<rect x="370" y="328" width="1" height="1" fill="#fff"/>
<rect x="372" y="330" width="1" height="4" fill="#fff"/>
<rect x="372" y="328" width="1" height="1" fill="#fff"/>
<rect x="374" y="330" width="1" height="4" fill="#fff"/>
<rect x="374" y="328" width="1" height="1" fill="#fff"/>
<rect x="376" y="330" width="1" height="4" fill="#fff"/>
<rect x="376" y="328" width="1" height="1" fill="#fff"/>
<rect x="385" y="330" width="1" height="4" fill="#fff"/>
<rect x="385" y="328" width="1" height="1" fill="#fff"/>
<rect x="387" y="330" width="1" height="4" fill="#fff"/>
<rect x="387" y="328" width="1" height="1" fill="#fff"/>
<rect x="389" y="330" width="1" height="4" fill="#fff"/>
<rect x="389" y="328" width="1" height="1" fill="#fff"/>
<rect x="391" y="330" width="1" height="4" fill="#fff"/>
<rect x="391" y="328" width="1" height="1" fill="#fff"/>
<rect x="398" y="330" width="1" height="4" fill="#fff"/>
<rect x="398" y="328" width="1" height="1" fill="#fff"/>
<rect x="400" y="330" width="1" height="4" fill="#fff"/>
<rect x="400" y="328" width="1" height="1" fill="#fff"/>
<rect x="402" y="330" width="1" height="4" fill="#fff"/>
<rect x="402" y="328" width="1" height="1" fill="#fff"/>
<rect x="404" y="330" width="1" height="4" fill="#fff"/>
<rect x="404" y="328" width="1" height="1" fill="#fff"/>
<rect x="406" y="330" width="1" height="4" fill="#fff"/>
<rect x="406" y="328" width="1" height="1" fill="#fff"/>
<rect x="408" y="330" width="1" height="4" fill="#fff"/>
<rect x="408" y="328" width="1" height="1" fill="#fff"/>
<rect x="410" y="330" width="1" height="4" fill="#fff"/>
<rect x="410" y="328" width="1" height="1" fill="#fff"/>
<rect x="413" y="330" width="1" height="4" fill="#fff"/>
<rect x="413" y="328" width="1" height="1" fill="#fff"/>
<rect x="415" y="330" width="1" height="4" fill="#fff"/>
<rect x="415" y="328" width="1" height="1" fill="#fff"/>
<rect x="417" y="330" width="1" height="4" fill="#fff"/>
<rect x="417" y="328" width="1" height="1" fill="#fff"/>
<rect x="419" y="330" width="1" height="4" fill="#fff"/>
<rect x="419" y="328" width="1" height="1" fill="#fff"/>
<rect x="421" y="330" width="1" height="4" fill="#fff"/>
<rect x="421" y="328" width="1" height="1" fill="#fff"/>
<rect x="423" y="330" width="1" height="4" fill="#fff"/>
<rect x="423" y="328" width="1" height="1" fill="#fff"/>
<rect x="431" y="330" width="1" height="4" fill="#fff"/>
<rect x="431" y="328" width="1" height="1" fill="#fff"/>
<rect x="433" y="330" width="1" height="4" fill="#fff"/>
<rect x="433" y="328" width="1" height="1" fill="#fff"/>
<rect x="435" y="330" width="1" height="4" fill="#fff"/>
<rect x="435" y="328" width="1" height="1" fill="#fff"/>
<rect x="237" y="343" width="6" height="1" fill="#fff"/>
<rect x="237" y="345" width="6" height="3" fill="#fff"/>
<rect x="237" y="349" width="6" height="3" fill="#fff"/>
<rect x="452" y="343" width="5" height="1" fill="#fff"/>
<rect x="452" y="345" width="5" height="3" fill="#fff"/>
<rect x="452" y="349" width="5" height="3" fill="#fff"/>
<rect x="243" y="342" width="3" height="11" fill="#000"/>
<rect x="449" y="342" width="3" height="11" fill="#000"/>
<rect x="246" y="342" width="9" height="10" fill="#000"/>
<rect x="246" y="343" width="9" height="1" fill="#fff"/>
<rect x="246" y="344" width="1" height="8" fill="#fff"/>
<rect x="254" y="343" width="1" height="10" fill="#fff"/>
<rect x="247" y="348" width="5" height="3" fill="#fff"/>
<rect x="247" y="348" width="2" height="1" fill="#000"/>
<rect x="439" y="342" width="10" height="10" fill="#000"/>
<rect x="439" y="343" width="10" height="1" fill="#fff"/>
<rect x="439" y="343" width="1" height="10" fill="#fff"/>
<rect x="440" y="344" width="1" height="8" fill="#fff"/>
<rect x="442" y="345" width="6" height="2" fill="#fff"/>
<rect x="443" y="348" width="5" height="3" fill="#fff"/>
<rect x="257" y="344" width="1" height="5" fill="#fff"/>
<rect x="259" y="344" width="1" height="5" fill="#fff"/>
<rect x="261" y="344" width="1" height="5" fill="#fff"/>
<rect x="268" y="344" width="1" height="5" fill="#fff"/>
<rect x="270" y="344" width="1" height="5" fill="#fff"/>
<rect x="272" y="344" width="1" height="5" fill="#fff"/>
<rect x="274" y="344" width="1" height="5" fill="#fff"/>
<rect x="276" y="344" width="1" height="5" fill="#fff"/>
<rect x="278" y="344" width="1" height="5" fill="#fff"/>
<rect x="287" y="344" width="1" height="5" fill="#fff"/>
<rect x="289" y="344" width="1" height="5" fill="#fff"/>
<rect x="291" y="344" width="1" height="5" fill="#fff"/>
<rect x="293" y="344" width="1" height="5" fill="#fff"/>
<rect x="300" y="344" width="1" height="5" fill="#fff"/>
<rect x="302" y="344" width="1" height="5" fill="#fff"/>
<rect x="304" y="344" width="1" height="5" fill="#fff"/>
<rect x="306" y="344" width="1" height="5" fill="#fff"/>
<rect x="317" y="344" width="1" height="5" fill="#fff"/>
<rect x="319" y="344" width="1" height="5" fill="#fff"/>
<rect x="321" y="344" width="1" height="5" fill="#fff"/>
<rect x="372" y="344" width="1" height="5" fill="#fff"/>
<rect x="374" y="344" width="1" height="5" fill="#fff"/>
<rect x="376" y="344" width="1" height="5" fill="#fff"/>
<rect x="385" y="344" width="1" height="5" fill="#fff"/>
<rect x="387" y="344" width="1" height="5" fill="#fff"/>
<rect x="389" y="344" width="1" height="5" fill="#fff"/>
<rect x="391" y="344" width="1" height="5" fill="#fff"/>
<rect x="393" y="344" width="1" height="5" fill="#fff"/>
<rect x="398" y="344" width="1" height="5" fill="#fff"/>
<rect x="400" y="344" width="1" height="5" fill="#fff"/>
<rect x="402" y="344" width="1" height="5" fill="#fff"/>
<rect x="404" y="344" width="1" height="5" fill="#fff"/>
<rect x="406" y="344" width="1" height="5" fill="#fff"/>
<rect x="408" y="344" width="1" height="5" fill="#fff"/>
<rect x="410" y="344" width="1" height="5" fill="#fff"/>
<rect x="412" y="344" width="1" height="5" fill="#fff"/>
<rect x="414" y="344" width="1" height="5" fill="#fff"/>
<rect x="416" y="344" width="1" height="5" fill="#fff"/>
<rect x="418" y="344" width="1" height="5" fill="#fff"/>
<rect x="420" y="344" width="1" height="5" fill="#fff"/>
<rect x="422" y="344" width="1" height="5" fill="#fff"/>
<rect x="424" y="344" width="1" height="5" fill="#fff"/>
<rect x="430" y="344" width="1" height="5" fill="#fff"/>
<rect x="432" y="344" width="1" height="5" fill="#fff"/>
<rect x="434" y="344" width="1" height="5" fill="#fff"/>
<rect x="237" y="356" width="6" height="1" fill="#fff"/>
<rect x="237" y="358" width="6" height="3" fill="#fff"/>
<rect x="237" y="362" width="6" height="3" fill="#fff"/>
<rect x="452" y="356" width="5" height="1" fill="#fff"/>
<rect x="452" y="358" width="5" height="3" fill="#fff"/>
<rect x="452" y="362" width="5" height="3" fill="#fff"/>
<rect x="243" y="355" width="3" height="11" fill="#000"/>
<rect x="449" y="355" width="3" height="11" fill="#000"/>
<rect x="246" y="355" width="9" height="10" fill="#000"/>
<rect x="246" y="356" width="9" height="1" fill="#fff"/>
<rect x="246" y="357" width="1" height="8" fill="#fff"/>
<rect x="254" y="356" width="1" height="10" fill="#fff"/>
<rect x="247" y="361" width="5" height="3" fill="#fff"/>
<rect x="247" y="361" width="2" height="1" fill="#000"/>
<rect x="439" y="355" width="10" height="10" fill="#000"/>
<rect x="439" y="356" width="10" height="1" fill="#fff"/>
<rect x="439" y="356" width="1" height="10" fill="#fff"/>
<rect x="440" y="357" width="1" height="8" fill="#fff"/>
<rect x="442" y="358" width="6" height="2" fill="#fff"/>
<rect x="443" y="361" width="5" height="3" fill="#fff"/>
<rect x="257" y="358" width="1" height="4" fill="#fff"/>
<rect x="257" y="356" width="1" height="1" fill="#fff"/>
<rect x="259" y="358" width="1" height="4" fill="#fff"/>
<rect x="259" y="356" width="1" height="1" fill="#fff"/>
<rect x="261" y="358" width="1" height="4" fill="#fff"/>
<rect x="261" y="356" width="1" height="1" fill="#fff"/>
<rect x="268" y="358" width="1" height="4" fill="#fff"/>
<rect x="268" y="356" width="1" height="1" fill="#fff"/>
<rect x="270" y="358" width="1" height="4" fill="#fff"/>
<rect x="270" y="356" width="1" height="1" fill="#fff"/>
<rect x="272" y="358" width="1" height="4" fill="#fff"/>
<rect x="272" y="356" width="1" height="1" fill="#fff"/>
<rect x="274" y="358" width="1" height="4" fill="#fff"/>
<rect x="274" y="356" width="1" height="1" fill="#fff"/>
<rect x="276" y="358" width="1" height="4" fill="#fff"/>
<rect x="276" y="356" width="1" height="1" fill="#fff"/>
<rect x="278" y="358" width="1" height="4" fill="#fff"/>
<rect x="278" y="356" width="1" height="1" fill="#fff"/>
<rect x="287" y="358" width="1" height="4" fill="#fff"/>
<rect x="287" y="356" width="1" height="1" fill="#fff"/>
<rect x="289" y="358" width="1" height="4" fill="#fff"/>
<rect x="289" y="356" width="1" height="1" fill="#fff"/>
<rect x="291" y="358" width="1" height="4" fill="#fff"/>
<rect x="291" y="356" width="1" height="1" fill="#fff"/>
<rect x="293" y="358" width="1" height="4" fill="#fff"/>
<rect x="293" y="356" width="1" height="1" fill="#fff"/>
<rect x="300" y="358" width="1" height="4" fill="#fff"/>
<rect x="300" y="356" width="1" height="1" fill="#fff"/>
<rect x="302" y="358" width="1" height="4" fill="#fff"/>
<rect x="302" y="356" width="1" height="1" fill="#fff"/>
<rect x="304" y="358" width="1" height="4" fill="#fff"/>
<rect x="304" y="356" width="1" height="1" fill="#fff"/>
<rect x="306" y="358" width="1" height="4" fill="#fff"/>
<rect x="306" y="356" width="1" height="1" fill="#fff"/>
<rect x="317" y="358" width="1" height="4" fill="#fff"/>
<rect x="317" y="356" width="1" height="1" fill="#fff"/>
<rect x="319" y="358" width="1" height="4" fill="#fff"/>
<rect x="319" y="356" width="1" height="1" fill="#fff"/>
<rect x="321" y="358" width="1" height="4" fill="#fff"/>
<rect x="321" y="356" width="1" height="1" fill="#fff"/>
<rect x="332" y="358" width="1" height="4" fill="#fff"/>
<rect x="332" y="356" width="1" height="1" fill="#fff"/>
<rect x="334" y="358" width="1" height="4" fill="#fff"/>
<rect x="334" y="356" width="1" height="1" fill="#fff"/>
<rect x="336" y="358" width="1" height="4" fill="#fff"/>
<rect x="336" y="356" width="1" height="1" fill="#fff"/>
<rect x="352" y="358" width="1" height="4" fill="#fff"/>
<rect x="352" y="356" width="1" height="1" fill="#fff"/>
<rect x="354" y="358" width="1" height="4" fill="#fff"/>
<rect x="354" y="356" width="1" height="1" fill="#fff"/>
<rect x="356" y="358" width="1" height="4" fill="#fff"/>
<rect x="356" y="356" width="1" height="1" fill="#fff"/>
<rect x="358" y="358" width="1" height="4" fill="#fff"/>
<rect x="358" y="356" width="1" height="1" fill="#fff"/>
<rect x="368" y="358" width="1" height="4" fill="#fff"/>
<rect x="368" y="356" width="1" height="1" fill="#fff"/>
<rect x="370" y="358" width="1" height="4" fill="#fff"/>
<rect x="370" y="356" width="1" height="1" fill="#fff"/>
<rect x="372" y="358" width="1" height="4" fill="#fff"/>
<rect x="372" y="356" width="1" height="1" fill="#fff"/>
<rect x="374" y="358" width="1" height="4" fill="#fff"/>
<rect x="374" y="356" width="1" height="1" fill="#fff"/>
<rect x="376" y="358" width="1" height="4" fill="#fff"/>
<rect x="376" y="356" width="1" height="1" fill="#fff"/>
<rect x="385" y="358" width="1" height="4" fill="#fff"/>
<rect x="385" y="356" width="1" height="1" fill="#fff"/>
<rect x="387" y="358" width="1" height="4" fill="#fff"/>
<rect x="387" y="356" width="1" height="1" fill="#fff"/>
<rect x="389" y="358" width="1" height="4" fill="#fff"/>
<rect x="389" y="356" width="1" height="1" fill="#fff"/>
<rect x="391" y="358" width="1" height="4" fill="#fff"/>
<rect x="391" y="356" width="1" height="1" fill="#fff"/>
<rect x="398" y="358" width="1" height="4" fill="#fff"/>
<rect x="398" y="356" width="1" height="1" fill="#fff"/>
<rect x="400" y="358" width="1" height="4" fill="#fff"/>
<rect x="400" y="356" width="1" height="1" fill="#fff"/>
<rect x="402" y="358" width="1" height="4" fill="#fff"/>
<rect x="402" y="356" width="1" height="1" fill="#fff"/>
<rect x="404" y="358" width="1" height="4" fill="#fff"/>
<rect x="404" y="356" width="1" height="1" fill="#fff"/>
<rect x="406" y="358" width="1" height="4" fill="#fff"/>
<rect x="406" y="356" width="1" height="1" fill="#fff"/>
<rect x="408" y="358" width="1" height="4" fill="#fff"/>
<rect x="408" y="356" width="1" height="1" fill="#fff"/>
<rect x="410" y="358" width="1" height="4" fill="#fff"/>
<rect x="410" y="356" width="1" height="1" fill="#fff"/>
<rect x="413" y="358" width="1" height="4" fill="#fff"/>
<rect x="413" y="356" width="1" height="1" fill="#fff"/>
<rect x="415" y="358" width="1" height="4" fill="#fff"/>
<rect x="415" y="356" width="1" height="1" fill="#fff"/>
<rect x="417" y="358" width="1" height="4" fill="#fff"/>
<rect x="417" y="356" width="1" height="1" fill="#fff"/>
<rect x="419" y="358" width="1" height="4" fill="#fff"/>
<rect x="419" y="356" width="1" height="1" fill="#fff"/>
<rect x="421" y="358" width="1" height="4" fill="#fff"/>
<rect x="421" y="356" width="1" height="1" fill="#fff"/>
<rect x="423" y="358" width="1" height="4" fill="#fff"/>
<rect x="423" y="356" width="1" height="1" fill="#fff"/>
<rect x="431" y="358" width="1" height="4" fill="#fff"/>
<rect x="431" y="356" width="1" height="1" fill="#fff"/>
<rect x="433" y="358" width="1" height="4" fill="#fff"/>
<rect x="433" y="356" width="1" height="1" fill="#fff"/>
<rect x="435" y="358" width="1" height="4" fill="#fff"/>
<rect x="435" y="356" width="1" height="1" fill="#fff"/>
<rect x="237" y="370" width="6" height="1" fill="#fff"/>
<rect x="237" y="372" width="6" height="3" fill="#fff"/>
<rect x="237" y="376" width="6" height="2" fill="#fff"/>
<rect x="452" y="370" width="5" height="1" fill="#fff"/>
<rect x="452" y="372" width="5" height="3" fill="#fff"/>
<rect x="452" y="376" width="5" height="2" fill="#fff"/>
<rect x="243" y="369" width="3" height="10" fill="#000"/>
<rect x="449" y="369" width="3" height="10" fill="#000"/>
<rect x="246" y="369" width="9" height="9" fill="#000"/>
<rect x="246" y="370" width="9" height="1" fill="#fff"/>
<rect x="246" y="371" width="1" height="7" fill="#fff"/>
<rect x="254" y="370" width="1" height="9" fill="#fff"/>
<rect x="247" y="375" width="5" height="2" fill="#fff"/>
<rect x="247" y="375" width="2" height="1" fill="#000"/>
<rect x="439" y="369" width="10" height="9" fill="#000"/>
<rect x="439" y="370" width="10" height="1" fill="#fff"/>
<rect x="439" y="370" width="1" height="9" fill="#fff"/>
<rect x="440" y="371" width="1" height="7" fill="#fff"/>
<rect x="442" y="372" width="6" height="2" fill="#fff"/>
<rect x="443" y="375" width="5" height="2" fill="#fff"/>
<rect x="257" y="371" width="1" height="5" fill="#fff"/>
<rect x="259" y="371" width="1" height="5" fill="#fff"/>
<rect x="261" y="371" width="1" height="5" fill="#fff"/>
<rect x="268" y="371" width="1" height="5" fill="#fff"/>
<rect x="270" y="371" width="1" height="5" fill="#fff"/>
<rect x="272" y="371" width="1" height="5" fill="#fff"/>
<rect x="274" y="371" width="1" height="5" fill="#fff"/>
<rect x="276" y="371" width="1" height="5" fill="#fff"/>
<rect x="278" y="371" width="1" height="5" fill="#fff"/>
<rect x="287" y="371" width="1" height="5" fill="#fff"/>
<rect x="289" y="371" width="1" height="5" fill="#fff"/>
<rect x="291" y="371" width="1" height="5" fill="#fff"/>
<rect x="293" y="371" width="1" height="5" fill="#fff"/>
<rect x="300" y="371" width="1" height="5" fill="#fff"/>
<rect x="302" y="371" width="1" height="5" fill="#fff"/>
<rect x="304" y="371" width="1" height="5" fill="#fff"/>
<rect x="306" y="371" width="1" height="5" fill="#fff"/>
<rect x="317" y="371" width="1" height="5" fill="#fff"/>
<rect x="319" y="371" width="1" height="5" fill="#fff"/>
<rect x="321" y="371" width="1" height="5" fill="#fff"/>
<rect x="372" y="371" width="1" height="5" fill="#fff"/>
<rect x="374" y="371" width="1" height="5" fill="#fff"/>
<rect x="376" y="371" width="1" height="5" fill="#fff"/>
<rect x="385" y="371" width="1" height="5" fill="#fff"/>
<rect x="387" y="371" width="1" height="5" fill="#fff"/>
<rect x="389" y="371" width="1" height="5" fill="#fff"/>
<rect x="391" y="371" width="1" height="5" fill="#fff"/>
<rect x="393" y="371" width="1" height="5" fill="#fff"/>
<rect x="398" y="371" width="1" height="5" fill="#fff"/>
<rect x="400" y="371" width="1" height="5" fill="#fff"/>
<rect x="402" y="371" width="1" height="5" fill="#fff"/>
<rect x="404" y="371" width="1" height="5" fill="#fff"/>
<rect x="406" y="371" width="1" height="5" fill="#fff"/>
<rect x="408" y="371" width="1" height="5" fill="#fff"/>
<rect x="410" y="371" width="1" height="5" fill="#fff"/>
<rect x="412" y="371" width="1" height="5" fill="#fff"/>
<rect x="414" y="371" width="1" height="5" fill="#fff"/>
<rect x="416" y="371" width="1" height="5" fill="#fff"/>
<rect x="418" y="371" width="1" height="5" fill="#fff"/>
<rect x="420" y="371" width="1" height="5" fill="#fff"/>
<rect x="422" y="371" width="1" height="5" fill="#fff"/>
<rect x="424" y="371" width="1" height="5" fill="#fff"/>
<rect x="430" y="371" width="1" height="5" fill="#fff"/>
<rect x="432" y="371" width="1" height="5" fill="#fff"/>
<rect x="434" y="371" width="1" height="5" fill="#fff"/>
<rect x="344" y="327" width="6" height="3" fill="#fff"/>
<rect x="344" y="348" width="6" height="3" fill="#fff"/>
<rect x="344" y="355" width="6" height="3" fill="#fff"/>
<rect x="344" y="375" width="6" height="3" fill="#fff"/>
<rect x="323" y="333" width="47.5" height="13" fill="#000"/>
<rect x="324.5" y="334" width="44.5" height="11" rx="1" fill="#fff"/>
<text x="327" y="344" font-size="11" letter-spacing="0.2" text-anchor="start" fill="#000" >BANK 0</text>
<rect x="323" y="360" width="47.5" height="13" fill="#000"/>
<rect x="324.5" y="361" width="44.5" height="11" rx="1" fill="#fff"/>
<text x="327" y="371" font-size="11" letter-spacing="-0.1" text-anchor="start" fill="#000" >BANK 1</text>
<rect x="471" y="302" width="10" height="95" fill="#000"/>
<rect x="472" y="307" width="8" height="1" fill="#fff"/>
<rect x="472" y="312" width="8" height="1" fill="#fff"/>
<rect x="472" y="316" width="8" height="1" fill="#fff"/>
<rect x="472" y="321" width="8" height="1" fill="#fff"/>
<rect x="472" y="326" width="8" height="1" fill="#fff"/>
<rect x="472" y="331" width="8" height="1" fill="#fff"/>
<rect x="472" y="336" width="8" height="1" fill="#fff"/>
<rect x="472" y="340" width="8" height="1" fill="#fff"/>
<rect x="472" y="345" width="8" height="1" fill="#fff"/>
<rect x="472" y="350" width="8" height="1" fill="#fff"/>
<rect x="472" y="354" width="8" height="1" fill="#fff"/>
<rect x="472" y="359" width="8" height="1" fill="#fff"/>
<rect x="472" y="364" width="8" height="1" fill="#fff"/>
<rect x="472" y="369" width="8" height="1" fill="#fff"/>
<rect x="472" y="374" width="8" height="1" fill="#fff"/>
<rect x="472" y="378" width="8" height="1" fill="#fff"/>
<rect x="472" y="383" width="8" height="1" fill="#fff"/>
<rect x="472" y="388" width="8" height="1" fill="#fff"/>
<rect x="472" y="392" width="8" height="1" fill="#fff"/>
<rect x="473" y="304" width="2" height="2" fill="#fff"/>
<rect x="488" y="302" width="10" height="95" fill="#000"/>
<rect x="489" y="307" width="8" height="1" fill="#fff"/>
<rect x="489" y="312" width="8" height="1" fill="#fff"/>
<rect x="489" y="316" width="8" height="1" fill="#fff"/>
<rect x="489" y="321" width="8" height="1" fill="#fff"/>
<rect x="489" y="326" width="8" height="1" fill="#fff"/>
<rect x="489" y="331" width="8" height="1" fill="#fff"/>
<rect x="489" y="336" width="8" height="1" fill="#fff"/>
<rect x="489" y="340" width="8" height="1" fill="#fff"/>
<rect x="489" y="345" width="8" height="1" fill="#fff"/>
<rect x="489" y="350" width="8" height="1" fill="#fff"/>
<rect x="489" y="354" width="8" height="1" fill="#fff"/>
<rect x="489" y="359" width="8" height="1" fill="#fff"/>
<rect x="489" y="364" width="8" height="1" fill="#fff"/>
<rect x="489" y="369" width="8" height="1" fill="#fff"/>
<rect x="489" y="374" width="8" height="1" fill="#fff"/>
<rect x="489" y="378" width="8" height="1" fill="#fff"/>
<rect x="489" y="383" width="8" height="1" fill="#fff"/>
<rect x="489" y="388" width="8" height="1" fill="#fff"/>
<rect x="489" y="392" width="8" height="1" fill="#fff"/>
<rect x="490" y="304" width="2" height="2" fill="#fff"/>
<rect x="504" y="316" width="11" height="80" fill="#000"/>
<rect x="509" y="320" width="1" height="76" fill="#fff"/>
<rect x="513" y="318" width="1" height="78" fill="#fff"/>
<rect x="505" y="321" width="8" height="1" fill="#fff"/>
<rect x="505" y="326" width="8" height="1" fill="#fff"/>
<rect x="505" y="330" width="8" height="1" fill="#fff"/>
<rect x="505" y="335" width="8" height="1" fill="#fff"/>
<rect x="505" y="339" width="8" height="1" fill="#fff"/>
<rect x="505" y="344" width="8" height="1" fill="#fff"/>
<rect x="505" y="349" width="8" height="1" fill="#fff"/>
<rect x="505" y="353" width="8" height="1" fill="#fff"/>
<rect x="505" y="358" width="8" height="1" fill="#fff"/>
<rect x="505" y="362" width="8" height="1" fill="#fff"/>
<rect x="505" y="367" width="8" height="1" fill="#fff"/>
<rect x="505" y="372" width="8" height="1" fill="#fff"/>
<rect x="505" y="376" width="8" height="1" fill="#fff"/>
<rect x="505" y="381" width="8" height="1" fill="#fff"/>
<rect x="505" y="385" width="8" height="1" fill="#fff"/>
<rect x="505" y="390" width="8" height="1" fill="#fff"/>
<rect x="505" y="395" width="8" height="1" fill="#fff"/>
<rect x="506" y="318" width="2" height="2" fill="#fff"/>
<rect x="519" y="334" width="11" height="62" fill="#000"/>
<rect x="524" y="337" width="1" height="59" fill="#fff"/>
<rect x="520" y="336" width="9" height="1" fill="#fff"/>
<rect x="520" y="340" width="9" height="1" fill="#fff"/>
<rect x="520" y="345" width="9" height="1" fill="#fff"/>
<rect x="520" y="349" width="9" height="1" fill="#fff"/>
<rect x="520" y="354" width="9" height="1" fill="#fff"/>
<rect x="520" y="358" width="9" height="1" fill="#fff"/>
<rect x="520" y="363" width="9" height="1" fill="#fff"/>
<rect x="520" y="368" width="9" height="1" fill="#fff"/>
<rect x="520" y="372" width="9" height="1" fill="#fff"/>
<rect x="520" y="377" width="9" height="1" fill="#fff"/>
<rect x="520" y="382" width="9" height="1" fill="#fff"/>
<rect x="520" y="386" width="9" height="1" fill="#fff"/>
<rect x="520" y="391" width="9" height="1" fill="#fff"/>
<rect x="521" y="337" width="2" height="2" fill="#fff"/>
<polygon points="458.0,387.0 461.0,387.0 462.0,385.5 466.8,385.1 466.8,381.9 462.0,381.5 461.0,380.0 458.0,380.0" fill="#000"/>
<line x1="465.8" y1="383.5" x2="471" y2="383.5" stroke="#000" stroke-width="2"/>
<polygon points="439.5,377 457.5,377 459,378.5 459,389.5 457.5,391 439.5,391 438,389.5 438,378.5" fill="#000"/>
<polygon points="440.7,379 456.3,379 457,379.7 457,387.8 456.3,388.5 440.7,388.5 440,387.8 440,379.7" fill="#fff"/>
<polygon points="456.0,384.7 460.5,384.7 464.0,383.8 464.0,383.2 460.5,382.3 456.0,382.3" fill="#fff"/>
<text x="442" y="387" font-size="11" letter-spacing="0.0" text-anchor="start" fill="#000" >J6</text>
<polygon points="486.3,406.4 488.7,404.6 488.6,402.8 489.16,401.88 487.24,399.32 486.2,399.6 484.5,399.0 482.1,400.8" fill="#000"/>
<line x1="487.4" y1="401.2" x2="493" y2="397" stroke="#000" stroke-width="3"/>
<polygon points="469.5,402 486.5,402 488,403.5 488,414.5 486.5,416 469.5,416 468,414.5 468,403.5" fill="#000"/>
<polygon points="470.7,404 485.3,404 486,404.7 486,412.8 485.3,413.5 470.7,413.5 470,412.8 470,404.7" fill="#fff"/>
<polygon points="483.32,405.76 486.92,403.06 486.78,402.04 486.42,401.56 485.48,401.14 481.88,403.84" fill="#fff"/>
<text x="472" y="413" font-size="11" letter-spacing="1.4" text-anchor="start" fill="#000" >J5</text>
<polygon points="513.0,411.0 513.0,408.0 511.5,407.0 511.1,402.0 507.9,402.0 507.5,407.0 506.0,408.0 506.0,411.0" fill="#000"/>
<line x1="509.5" y1="403.0" x2="509.5" y2="396" stroke="#000" stroke-width="3"/>
<polygon points="500.5,410 518.5,410 520,411.5 520,422.5 518.5,424 500.5,424 499,422.5 499,411.5" fill="#000"/>
<polygon points="501.7,412 517.3,412 518,412.7 518,420.8 517.3,421.5 501.7,421.5 501,420.8 501,412.7" fill="#fff"/>
<polygon points="510.7,413.0 510.7,408.5 509.8,405.0 509.2,405.0 508.3,408.5 508.3,413.0" fill="#fff"/>
<text x="503" y="420" font-size="11" letter-spacing="1.2" text-anchor="start" fill="#000" >J4</text>
<polygon points="535.9,400.8 533.5,399.0 531.8,399.6 530.76,399.32 528.84,401.88 529.4,402.8 529.3,404.6 531.7,406.4" fill="#000"/>
<line x1="530.6" y1="401.2" x2="525" y2="397" stroke="#000" stroke-width="3"/>
<polygon points="531.5,402 546.5,402 548,403.5 548,414.5 546.5,416 531.5,416 530,414.5 530,403.5" fill="#000"/>
<polygon points="532.7,404 545.3,404 546,404.7 546,412.8 545.3,413.5 532.7,413.5 532,412.8 532,404.7" fill="#fff"/>
<polygon points="536.12,403.84 532.52,401.14 531.58,401.56 531.22,402.04 531.08,403.06 534.68,405.76" fill="#fff"/>
<text x="533" y="413" font-size="11" letter-spacing="0.0" text-anchor="start" fill="#000" >J1</text>
<rect x="544" y="315" width="20" height="88" fill="#000"/>
<rect x="545" y="316" width="18" height="86" fill="#fff"/>
<rect x="557" y="316" width="1" height="86" fill="#000"/>
<rect x="554" y="316" width="2" height="4.5" fill="#000"/>
<rect x="558" y="316" width="4" height="4.5" rx="1.2" fill="#000"/>
<rect x="547" y="319" width="6" height="6" fill="#000"/>
<rect x="548" y="320" width="4" height="4" fill="#fff"/>
<rect x="554" y="322.5" width="2" height="5.0" fill="#000"/>
<rect x="558" y="322.5" width="4" height="5.0" rx="1.2" fill="#000"/>
<rect x="547" y="327" width="6" height="6" fill="#000"/>
<rect x="548" y="328" width="4" height="4" fill="#fff"/>
<rect x="554" y="330.5" width="2" height="5.0" fill="#000"/>
<rect x="558" y="330.5" width="4" height="5.0" rx="1.2" fill="#000"/>
<rect x="547" y="334" width="6" height="6" fill="#000"/>
<rect x="548" y="335" width="4" height="4" fill="#fff"/>
<rect x="554" y="337.5" width="2" height="5.0" fill="#000"/>
<rect x="558" y="337.5" width="4" height="5.0" rx="1.2" fill="#000"/>
<rect x="547" y="342" width="6" height="6" fill="#000"/>
<rect x="548" y="343" width="4" height="4" fill="#fff"/>
<rect x="554" y="345.5" width="2" height="5.0" fill="#000"/>
<rect x="558" y="345.5" width="4" height="5.0" rx="1.2" fill="#000"/>
<rect x="547" y="349" width="6" height="6" fill="#000"/>
<rect x="548" y="350" width="4" height="4" fill="#fff"/>
<rect x="554" y="352.5" width="2" height="5.0" fill="#000"/>
<rect x="558" y="352.5" width="4" height="5.0" rx="1.2" fill="#000"/>
<rect x="547" y="357" width="6" height="6" fill="#000"/>
<rect x="548" y="358" width="4" height="4" fill="#fff"/>
<rect x="554" y="360.5" width="2" height="5.0" fill="#000"/>
<rect x="558" y="360.5" width="4" height="5.0" rx="1.2" fill="#000"/>
<rect x="547" y="364" width="6" height="6" fill="#000"/>
<rect x="548" y="365" width="4" height="4" fill="#fff"/>
<rect x="554" y="367.5" width="2" height="5.0" fill="#000"/>
<rect x="558" y="367.5" width="4" height="5.0" rx="1.2" fill="#000"/>
<rect x="547" y="372" width="6" height="6" fill="#000"/>
<rect x="548" y="373" width="4" height="4" fill="#fff"/>
<rect x="554" y="375.5" width="2" height="5.0" fill="#000"/>
<rect x="558" y="375.5" width="4" height="5.0" rx="1.2" fill="#000"/>
<rect x="547" y="379" width="6" height="6" fill="#000"/>
<rect x="548" y="380" width="4" height="4" fill="#fff"/>
<rect x="554" y="382.5" width="2" height="5.0" fill="#000"/>
<rect x="558" y="382.5" width="4" height="5.0" rx="1.2" fill="#000"/>
<rect x="547" y="387" width="6" height="6" fill="#000"/>
<rect x="548" y="388" width="4" height="4" fill="#fff"/>
<rect x="554" y="390.5" width="2" height="5.0" fill="#000"/>
<rect x="558" y="390.5" width="4" height="5.0" rx="1.2" fill="#000"/>
<rect x="547" y="394" width="6" height="6" fill="#000"/>
<rect x="548" y="395" width="4" height="4" fill="#fff"/>
<rect x="554" y="397.5" width="2" height="4.5" fill="#000"/>
<rect x="558" y="397.5" width="4" height="4.5" rx="1.2" fill="#000"/>
<rect x="549" y="315" width="3" height="1" fill="#fff"/>
<polygon points="580,362 599,362 599,359 602,359 602,357 604,357 604,398 602,398 602,396 599,396 599,392 580,392 580,387 578,387 578,367 580,367" fill="#000"/>
<rect x="575" y="369" width="4" height="6" fill="#000"/>
<rect x="576" y="370" width="2" height="4" fill="#fff"/>
<rect x="575" y="378" width="4" height="6" fill="#000"/>
<rect x="576" y="379" width="2" height="4" fill="#fff"/>
<rect x="578" y="375.5" width="1" height="2.0" fill="#fff"/>
<rect x="557" y="281" width="5" height="24" fill="#000"/>
<rect x="558" y="285" width="3" height="1" fill="#fff"/>
<rect x="558" y="290" width="3" height="1" fill="#fff"/>
<rect x="558" y="295" width="3" height="1" fill="#fff"/>
<rect x="558" y="300" width="3" height="1" fill="#fff"/>
<polygon points="543.0,296.0 546.0,296.0 547.0,294.5 552.0,294.1 552.0,290.9 547.0,290.5 546.0,289.0 543.0,289.0" fill="#000"/>
<line x1="551.0" y1="292.5" x2="557" y2="292.5" stroke="#000" stroke-width="2"/>
<polygon points="525.5,285 542.5,285 544,286.5 544,298.5 542.5,300 525.5,300 524,298.5 524,286.5" fill="#000"/>
<polygon points="526.7,287 541.3,287 542,287.7 542,296.8 541.3,297.5 526.7,297.5 526,296.8 526,287.7" fill="#fff"/>
<polygon points="541.0,293.7 545.5,293.7 549.0,292.8 549.0,292.2 545.5,291.3 541.0,291.3" fill="#fff"/>
<text x="528" y="296" font-size="11" letter-spacing="1.4" text-anchor="start" fill="#000" >J9</text>
<rect x="571" y="279" width="26" height="11" fill="#000"/>
<rect x="572" y="280" width="1" height="9" fill="#fff"/>
<rect x="576" y="280" width="1" height="9" fill="#fff"/>
<rect x="581" y="280" width="1" height="9" fill="#fff"/>
<rect x="586" y="280" width="1" height="9" fill="#fff"/>
<rect x="590" y="280" width="1" height="9" fill="#fff"/>
<rect x="572" y="284" width="23" height="1" fill="#fff"/>
<rect x="593" y="281" width="1" height="2" fill="#fff"/>
<rect x="571" y="293" width="26" height="9" fill="#000"/>
<rect x="572" y="294" width="1" height="7" fill="#fff"/>
<rect x="576" y="294" width="1" height="7" fill="#fff"/>
<rect x="581" y="294" width="1" height="7" fill="#fff"/>
<rect x="586" y="294" width="1" height="7" fill="#fff"/>
<rect x="590" y="294" width="1" height="7" fill="#fff"/>
<rect x="572" y="298" width="23" height="1" fill="#fff"/>
<rect x="593" y="295" width="1" height="2" fill="#fff"/>
<polygon points="602.23,274.82 600.11,276.94 600.46,278.71 600.04,279.7 602.3,281.96 603.29,281.54 605.06,281.89 607.18,279.77" fill="#000"/>
<line x1="601.88" y1="280.12" x2="597" y2="285" stroke="#000" stroke-width="2.5"/>
<polygon points="603.5,267 626.5,267 628,268.5 628,279.5 626.5,281 603.5,281 602,279.5 602,268.5" fill="#000"/>
<polygon points="604.7,269 625.3,269 626,269.7 626,277.8 625.3,278.5 604.7,278.5 604,277.8 604,269.7" fill="#fff"/>
<polygon points="605.27,275.03 602.09,278.21 602.37,279.2 602.8,279.63 603.79,279.91 606.97,276.73" fill="#fff"/>
<text x="604" y="277" font-size="11" letter-spacing="0.6" text-anchor="start" fill="#000" >J10</text>
<polygon points="608.0,294.0 605.0,294.0 604.0,295.5 600.5,295.9 600.5,299.1 604.0,299.5 605.0,301.0 608.0,301.0" fill="#000"/>
<line x1="601.5" y1="297.5" x2="597" y2="297.5" stroke="#000" stroke-width="2"/>
<polygon points="608.5,291 626.5,291 628,292.5 628,302.5 626.5,304 608.5,304 607,302.5 607,292.5" fill="#000"/>
<polygon points="609.7,293 625.3,293 626,293.7 626,300.8 625.3,301.5 609.7,301.5 609,300.8 609,293.7" fill="#fff"/>
<polygon points="610.0,296.3 605.5,296.3 602.5,297.2 602.5,297.8 605.5,298.7 610.0,298.7" fill="#fff"/>
<text x="611" y="301" font-size="11" letter-spacing="0.4" text-anchor="start" fill="#000" >J8</text>
<rect x="571" y="309" width="30" height="6" fill="#000"/>
<rect x="576" y="310" width="1" height="4" fill="#fff"/>
<rect x="581" y="310" width="1" height="4" fill="#fff"/>
<rect x="590" y="310" width="1" height="4" fill="#fff"/>
<rect x="595" y="310" width="1" height="4" fill="#fff"/>
<rect x="597" y="310" width="1" height="4" fill="#fff"/>
<polygon points="610.85,314.73 608.41,312.99 606.72,313.63 605.68,313.37 603.82,315.98 604.4,316.88 604.34,318.69 606.78,320.43" fill="#000"/>
<line x1="605.56" y1="315.26" x2="601" y2="312" stroke="#000" stroke-width="2.5"/>
<polygon points="607.5,316 625.5,316 627,317.5 627,329.5 625.5,331 607.5,331 606,329.5 606,317.5" fill="#000"/>
<polygon points="608.7,318 624.3,318 625,318.7 625,327.8 624.3,328.5 608.7,328.5 608,327.8 608,318.7" fill="#fff"/>
<polygon points="611.14,317.77 607.48,315.15 606.55,315.59 606.2,316.08 606.08,317.1 609.74,319.72" fill="#fff"/>
<text x="610" y="327" font-size="11" letter-spacing="0.4" text-anchor="start" fill="#000" >J7</text>
<rect x="95" y="363" width="11" height="11" fill="#000"/>
<rect x="96" y="368" width="9" height="1" fill="#fff"/>
<rect x="96" y="372" width="9" height="1" fill="#fff"/>
<rect x="100" y="364" width="1" height="8" fill="#fff"/>
<rect x="102" y="365" width="2" height="2" fill="#fff"/>
<polygon points="83.0,371.5 86.0,371.5 87.0,370.0 91.15,369.6 91.15,366.4 87.0,366.0 86.0,364.5 83.0,364.5" fill="#000"/>
<line x1="90.15" y1="368.0" x2="95" y2="368" stroke="#000" stroke-width="2"/>
<polygon points="56.5,361 82.5,361 84,362.5 84,374.5 82.5,376 56.5,376 55,374.5 55,362.5" fill="#000"/>
<polygon points="57.7,363 81.3,363 82,363.7 82,372.8 81.3,373.5 57.7,373.5 57,372.8 57,363.7" fill="#fff"/>
<polygon points="81.0,369.2 85.5,369.2 89.0,368.3 89.0,367.7 85.5,366.8 81.0,366.8" fill="#fff"/>
<text x="59" y="372" font-size="11" letter-spacing="0.6" text-anchor="start" fill="#000" >JP3</text>
<rect x="324" y="389" width="21" height="11" fill="#000"/>
<rect x="325" y="390" width="19" height="9" fill="#fff"/>
<rect x="326" y="391" width="3" height="3" fill="#000"/>
<rect x="326" y="395" width="3" height="5" fill="#000"/>
<rect x="330" y="391" width="4" height="3" fill="#000"/>
<rect x="330" y="395" width="4" height="5" fill="#000"/>
<rect x="335" y="391" width="4" height="3" fill="#000"/>
<rect x="335" y="395" width="4" height="5" fill="#000"/>
<rect x="340" y="391" width="3" height="3" fill="#000"/>
<rect x="340" y="395" width="3" height="5" fill="#000"/>
<rect x="341" y="392" width="1" height="1" fill="#fff"/>
<text x="344" y="404" font-size="10.5" letter-spacing="0" text-anchor="start" fill="#000" >2</text>
<polygon points="312.0,397.5 315.0,397.5 316.0,396.0 320.15,395.6 320.15,392.4 316.0,392.0 315.0,390.5 312.0,390.5" fill="#000"/>
<line x1="319.15" y1="394.0" x2="324" y2="394" stroke="#000" stroke-width="2"/>
<polygon points="285.5,387 311.5,387 313,388.5 313,400.5 311.5,402 285.5,402 284,400.5 284,388.5" fill="#000"/>
<polygon points="286.7,389 310.3,389 311,389.7 311,398.8 310.3,399.5 286.7,399.5 286,398.8 286,389.7" fill="#fff"/>
<polygon points="310.0,395.2 314.5,395.2 318.0,394.3 318.0,393.7 314.5,392.8 310.0,392.8" fill="#fff"/>
<text x="289" y="398" font-size="11" letter-spacing="0.1" text-anchor="start" fill="#000" >JP1</text>
</svg>
</body></html>
